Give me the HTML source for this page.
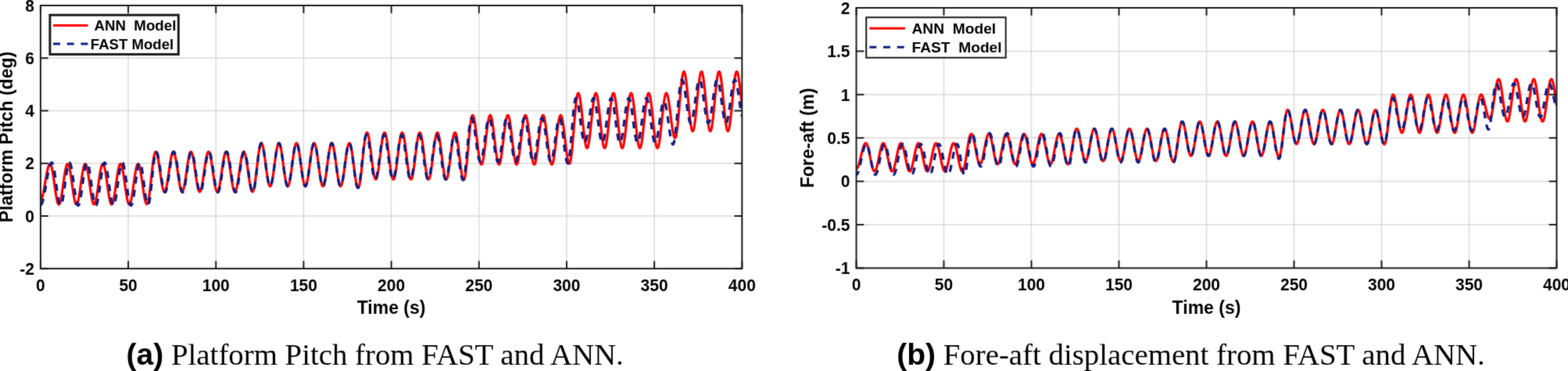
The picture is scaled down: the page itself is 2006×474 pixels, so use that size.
<!DOCTYPE html>
<html><head><meta charset="utf-8"><title>Platform Pitch and Fore-aft displacement from FAST and ANN</title>
<style>
html,body{margin:0;padding:0;background:#fff;}
body{width:2006px;height:474px;overflow:hidden;}
svg{display:block;}
.tk{font-family:"Liberation Sans",Arial,sans-serif;font-weight:bold;font-size:21px;fill:#000;}
.lb{font-family:"Liberation Sans",Arial,sans-serif;font-weight:bold;font-size:23px;fill:#000;}
.lg{font-family:"Liberation Sans",Arial,sans-serif;font-weight:bold;fill:#000;}
.cap{font-family:"Liberation Serif","Times New Roman",serif;font-size:38.85px;fill:#000;}
.capb{font-family:"Liberation Sans",Arial,sans-serif;font-weight:bold;font-size:39px;}
</style></head>
<body>
<svg width="2006" height="474" viewBox="0 0 2006 474">
<defs>
<filter id="soft" x="0" y="0" width="2006" height="474" filterUnits="userSpaceOnUse" color-interpolation-filters="sRGB"><feConvolveMatrix order="3" kernelMatrix="1 6 1 6 36 6 1 6 1" divisor="64" edgeMode="duplicate"/></filter>
<clipPath id="cl"><rect x="51.9" y="7.0" width="897.40" height="336.20"/></clipPath>
<clipPath id="cr"><rect x="1095.5" y="10.0" width="896.00" height="332.50"/></clipPath>
</defs>
<rect width="2006" height="474" fill="#fff"/>
<g filter="url(#soft)">
<line x1="164.07" y1="7.0" x2="164.07" y2="343.2" stroke="#dadada" stroke-width="1.5"/>
<line x1="276.25" y1="7.0" x2="276.25" y2="343.2" stroke="#dadada" stroke-width="1.5"/>
<line x1="388.42" y1="7.0" x2="388.42" y2="343.2" stroke="#dadada" stroke-width="1.5"/>
<line x1="500.60" y1="7.0" x2="500.60" y2="343.2" stroke="#dadada" stroke-width="1.5"/>
<line x1="612.77" y1="7.0" x2="612.77" y2="343.2" stroke="#dadada" stroke-width="1.5"/>
<line x1="724.95" y1="7.0" x2="724.95" y2="343.2" stroke="#dadada" stroke-width="1.5"/>
<line x1="837.12" y1="7.0" x2="837.12" y2="343.2" stroke="#dadada" stroke-width="1.5"/>
<line x1="51.9" y1="275.96" x2="949.3" y2="275.96" stroke="#dadada" stroke-width="1.5"/>
<line x1="51.9" y1="208.72" x2="949.3" y2="208.72" stroke="#dadada" stroke-width="1.5"/>
<line x1="51.9" y1="141.48" x2="949.3" y2="141.48" stroke="#dadada" stroke-width="1.5"/>
<line x1="51.9" y1="74.24" x2="949.3" y2="74.24" stroke="#dadada" stroke-width="1.5"/>
<g clip-path="url(#cl)">
<path d="M51.9,255.12 L52.48,254.86 L53.05,254.1 L53.63,252.85 L54.21,251.14 L54.78,249.01 L55.36,246.51 L55.94,243.68 L56.52,240.61 L57.09,237.34 L57.67,233.96 L58.25,230.55 L58.82,227.17 L59.4,223.9 L59.98,220.82 L60.55,218.0 L61.13,215.5 L61.71,213.36 L62.28,211.66 L62.86,210.41 L63.44,209.65 L64.01,209.39 L64.58,209.71 L65.14,210.66 L65.7,212.21 L66.27,214.34 L66.83,216.97 L67.39,220.06 L67.96,223.53 L68.52,227.28 L69.08,231.23 L69.65,235.28 L70.21,239.33 L70.77,243.28 L71.34,247.03 L71.9,250.5 L72.46,253.58 L73.02,256.22 L73.59,258.35 L74.15,259.9 L74.71,260.85 L75.28,261.17 L75.84,260.85 L76.4,259.9 L76.97,258.35 L77.53,256.22 L78.09,253.58 L78.66,250.5 L79.22,247.03 L79.78,243.28 L80.35,239.33 L80.91,235.28 L81.47,231.23 L82.03,227.28 L82.6,223.53 L83.16,220.06 L83.72,216.97 L84.29,214.34 L84.85,212.21 L85.41,210.66 L85.98,209.71 L86.54,209.39 L87.1,209.71 L87.67,210.66 L88.23,212.21 L88.79,214.34 L89.36,216.97 L89.92,220.06 L90.48,223.53 L91.04,227.28 L91.61,231.23 L92.17,235.28 L92.73,239.33 L93.3,243.28 L93.86,247.03 L94.42,250.5 L94.99,253.58 L95.55,256.22 L96.11,258.35 L96.68,259.9 L97.24,260.85 L97.8,261.17 L98.37,260.85 L98.93,259.9 L99.49,258.35 L100.05,256.22 L100.62,253.58 L101.18,250.5 L101.74,247.03 L102.31,243.28 L102.87,239.33 L103.43,235.28 L104.0,231.23 L104.56,227.28 L105.12,223.53 L105.69,220.06 L106.25,216.97 L106.81,214.34 L107.38,212.21 L107.94,210.66 L108.5,209.71 L109.06,209.39 L109.63,209.71 L110.19,210.66 L110.75,212.21 L111.32,214.34 L111.88,216.97 L112.44,220.06 L113.01,223.53 L113.57,227.28 L114.13,231.23 L114.7,235.28 L115.26,239.33 L115.82,243.28 L116.38,247.03 L116.95,250.5 L117.51,253.58 L118.07,256.22 L118.64,258.35 L119.2,259.9 L119.76,260.85 L120.33,261.17 L120.89,260.85 L121.45,259.9 L122.02,258.35 L122.58,256.22 L123.14,253.58 L123.71,250.5 L124.27,247.03 L124.83,243.28 L125.39,239.33 L125.96,235.28 L126.52,231.23 L127.08,227.28 L127.65,223.53 L128.21,220.06 L128.77,216.97 L129.34,214.34 L129.9,212.21 L130.46,210.66 L131.03,209.71 L131.59,209.39 L132.15,209.71 L132.72,210.66 L133.28,212.21 L133.84,214.34 L134.4,216.97 L134.97,220.06 L135.53,223.53 L136.09,227.28 L136.66,231.23 L137.22,235.28 L137.78,239.33 L138.35,243.28 L138.91,247.03 L139.47,250.5 L140.04,253.58 L140.6,256.22 L141.16,258.35 L141.73,259.9 L142.29,260.85 L142.85,261.17 L143.41,260.85 L143.98,259.9 L144.54,258.35 L145.1,256.22 L145.67,253.58 L146.23,250.5 L146.79,247.03 L147.36,243.28 L147.92,239.33 L148.48,235.28 L149.05,231.23 L149.61,227.28 L150.17,223.53 L150.74,220.06 L151.3,216.97 L151.86,214.34 L152.42,212.21 L152.99,210.66 L153.55,209.71 L154.11,209.39 L154.68,209.71 L155.24,210.66 L155.8,212.21 L156.37,214.34 L156.93,216.97 L157.49,220.06 L158.06,223.53 L158.62,227.28 L159.18,231.23 L159.75,235.28 L160.31,239.33 L160.87,243.28 L161.43,247.03 L162.0,250.5 L162.56,253.58 L163.12,256.22 L163.69,258.35 L164.25,259.9 L164.81,260.85 L165.38,261.17 L165.94,260.85 L166.5,259.9 L167.07,258.35 L167.63,256.22 L168.19,253.58 L168.75,250.5 L169.32,247.03 L169.88,243.28 L170.44,239.33 L171.01,235.28 L171.57,231.23 L172.13,227.28 L172.7,223.53 L173.26,220.06 L173.82,216.97 L174.39,214.34 L174.95,212.21 L175.51,210.66 L176.08,209.71 L176.64,209.39 L177.2,209.71 L177.76,210.65 L178.33,212.2 L178.89,214.3 L179.45,216.93 L180.02,219.99 L180.58,223.44 L181.14,227.16 L181.71,231.09 L182.27,235.11 L182.83,239.14 L183.4,243.06 L183.96,246.79 L184.52,250.23 L185.09,253.3 L185.65,255.92 L186.21,258.03 L186.77,259.57 L187.34,260.51 L187.9,260.83 L188.46,260.42 L189.03,259.19 L189.59,257.18 L190.15,254.44 L190.72,251.03 L191.28,247.04 L191.84,242.57 L192.41,237.72 L192.97,232.61 L193.53,227.38 L194.1,222.15 L194.66,217.04 L195.22,212.19 L195.78,207.72 L196.35,203.73 L196.91,200.32 L197.47,197.57 L198.04,195.56 L198.6,194.34 L199.16,193.93 L199.73,194.24 L200.29,195.18 L200.85,196.71 L201.42,198.81 L201.98,201.41 L202.54,204.46 L203.11,207.88 L203.67,211.58 L204.23,215.48 L204.79,219.48 L205.36,223.48 L205.92,227.37 L206.48,231.08 L207.05,234.5 L207.61,237.55 L208.17,240.15 L208.74,242.24 L209.3,243.78 L209.86,244.72 L210.43,245.03 L210.99,244.72 L211.55,243.78 L212.12,242.24 L212.68,240.15 L213.24,237.55 L213.8,234.5 L214.37,231.08 L214.93,227.37 L215.49,223.48 L216.06,219.48 L216.62,215.48 L217.18,211.58 L217.75,207.88 L218.31,204.46 L218.87,201.41 L219.44,198.81 L220.0,196.71 L220.56,195.18 L221.12,194.24 L221.69,193.93 L222.25,194.24 L222.81,195.18 L223.38,196.71 L223.94,198.81 L224.5,201.41 L225.07,204.46 L225.63,207.88 L226.19,211.58 L226.76,215.48 L227.32,219.48 L227.88,223.48 L228.45,227.37 L229.01,231.08 L229.57,234.5 L230.13,237.55 L230.7,240.15 L231.26,242.24 L231.82,243.78 L232.39,244.72 L232.95,245.03 L233.51,244.72 L234.08,243.78 L234.64,242.24 L235.2,240.15 L235.77,237.55 L236.33,234.5 L236.89,231.08 L237.46,227.37 L238.02,223.48 L238.58,219.48 L239.14,215.48 L239.71,211.58 L240.27,207.88 L240.83,204.46 L241.4,201.41 L241.96,198.81 L242.52,196.71 L243.09,195.18 L243.65,194.24 L244.21,193.93 L244.78,194.24 L245.34,195.18 L245.9,196.71 L246.47,198.81 L247.03,201.41 L247.59,204.46 L248.15,207.88 L248.72,211.58 L249.28,215.48 L249.84,219.48 L250.41,223.48 L250.97,227.37 L251.53,231.08 L252.1,234.5 L252.66,237.55 L253.22,240.15 L253.79,242.24 L254.35,243.78 L254.91,244.72 L255.48,245.03 L256.04,244.72 L256.6,243.78 L257.16,242.24 L257.73,240.15 L258.29,237.55 L258.85,234.5 L259.42,231.08 L259.98,227.37 L260.54,223.48 L261.11,219.48 L261.67,215.48 L262.23,211.58 L262.8,207.88 L263.36,204.46 L263.92,201.41 L264.49,198.81 L265.05,196.71 L265.61,195.18 L266.17,194.24 L266.74,193.93 L267.3,194.24 L267.86,195.18 L268.43,196.71 L268.99,198.81 L269.55,201.41 L270.12,204.46 L270.68,207.88 L271.24,211.58 L271.81,215.48 L272.37,219.48 L272.93,223.48 L273.49,227.37 L274.06,231.08 L274.62,234.5 L275.18,237.55 L275.75,240.15 L276.31,242.24 L276.87,243.78 L277.44,244.72 L278.0,245.03 L278.56,244.72 L279.13,243.78 L279.69,242.24 L280.25,240.15 L280.82,237.55 L281.38,234.5 L281.94,231.08 L282.5,227.37 L283.07,223.48 L283.63,219.48 L284.19,215.48 L284.76,211.58 L285.32,207.88 L285.88,204.46 L286.45,201.41 L287.01,198.81 L287.57,196.71 L288.14,195.18 L288.7,194.24 L289.26,193.93 L289.83,194.24 L290.39,195.18 L290.95,196.71 L291.51,198.81 L292.08,201.41 L292.64,204.46 L293.2,207.88 L293.77,211.58 L294.33,215.48 L294.89,219.48 L295.46,223.48 L296.02,227.37 L296.58,231.08 L297.15,234.5 L297.71,237.55 L298.27,240.15 L298.84,242.24 L299.4,243.78 L299.96,244.72 L300.52,245.03 L301.09,244.72 L301.65,243.78 L302.21,242.24 L302.78,240.15 L303.34,237.55 L303.9,234.5 L304.47,231.08 L305.03,227.37 L305.59,223.48 L306.16,219.48 L306.72,215.48 L307.28,211.58 L307.85,207.88 L308.41,204.46 L308.97,201.41 L309.53,198.81 L310.1,196.71 L310.66,195.18 L311.22,194.24 L311.79,193.93 L312.35,194.24 L312.91,195.18 L313.48,196.71 L314.04,198.81 L314.6,201.41 L315.17,204.46 L315.73,207.88 L316.29,211.58 L316.86,215.48 L317.42,219.48 L317.98,223.48 L318.54,227.37 L319.11,231.08 L319.67,234.5 L320.23,237.55 L320.8,240.15 L321.36,242.24 L321.92,243.78 L322.49,244.72 L323.05,245.03 L323.61,244.65 L324.18,243.51 L324.74,241.64 L325.3,239.09 L325.87,235.92 L326.43,232.21 L326.99,228.05 L327.55,223.54 L328.12,218.8 L328.68,213.93 L329.24,209.07 L329.81,204.32 L330.37,199.81 L330.93,195.65 L331.5,191.94 L332.06,188.77 L332.62,186.22 L333.19,184.35 L333.75,183.22 L334.31,182.83 L334.87,183.17 L335.44,184.18 L336.0,185.84 L336.56,188.1 L337.13,190.91 L337.69,194.2 L338.25,197.89 L338.82,201.88 L339.38,206.09 L339.94,210.4 L340.51,214.71 L341.07,218.92 L341.63,222.92 L342.2,226.61 L342.76,229.89 L343.32,232.7 L343.88,234.96 L344.45,236.62 L345.01,237.63 L345.57,237.97 L346.14,237.63 L346.7,236.62 L347.26,234.96 L347.83,232.7 L348.39,229.89 L348.95,226.61 L349.52,222.92 L350.08,218.92 L350.64,214.71 L351.21,210.4 L351.77,206.09 L352.33,201.88 L352.89,197.89 L353.46,194.2 L354.02,190.91 L354.58,188.1 L355.15,185.84 L355.71,184.18 L356.27,183.17 L356.84,182.83 L357.4,183.17 L357.96,184.18 L358.53,185.84 L359.09,188.1 L359.65,190.91 L360.22,194.2 L360.78,197.89 L361.34,201.88 L361.9,206.09 L362.47,210.4 L363.03,214.71 L363.59,218.92 L364.16,222.92 L364.72,226.61 L365.28,229.89 L365.85,232.7 L366.41,234.96 L366.97,236.62 L367.54,237.63 L368.1,237.97 L368.66,237.63 L369.23,236.62 L369.79,234.96 L370.35,232.7 L370.91,229.89 L371.48,226.61 L372.04,222.92 L372.6,218.92 L373.17,214.71 L373.73,210.4 L374.29,206.09 L374.86,201.88 L375.42,197.89 L375.98,194.2 L376.55,190.91 L377.11,188.1 L377.67,185.84 L378.24,184.18 L378.8,183.17 L379.36,182.83 L379.92,183.17 L380.49,184.18 L381.05,185.84 L381.61,188.1 L382.18,190.91 L382.74,194.2 L383.3,197.89 L383.87,201.88 L384.43,206.09 L384.99,210.4 L385.56,214.71 L386.12,218.92 L386.68,222.92 L387.24,226.61 L387.81,229.89 L388.37,232.7 L388.93,234.96 L389.5,236.62 L390.06,237.63 L390.62,237.97 L391.19,237.63 L391.75,236.62 L392.31,234.96 L392.88,232.7 L393.44,229.89 L394.0,226.61 L394.57,222.92 L395.13,218.92 L395.69,214.71 L396.25,210.4 L396.82,206.09 L397.38,201.88 L397.94,197.89 L398.51,194.2 L399.07,190.91 L399.63,188.1 L400.2,185.84 L400.76,184.18 L401.32,183.17 L401.89,182.83 L402.45,183.17 L403.01,184.18 L403.58,185.84 L404.14,188.1 L404.7,190.91 L405.26,194.2 L405.83,197.89 L406.39,201.88 L406.95,206.09 L407.52,210.4 L408.08,214.71 L408.64,218.92 L409.21,222.92 L409.77,226.61 L410.33,229.89 L410.9,232.7 L411.46,234.96 L412.02,236.62 L412.59,237.63 L413.15,237.97 L413.71,237.63 L414.27,236.62 L414.84,234.96 L415.4,232.7 L415.96,229.89 L416.53,226.61 L417.09,222.92 L417.65,218.92 L418.22,214.71 L418.78,210.4 L419.34,206.09 L419.91,201.88 L420.47,197.89 L421.03,194.2 L421.6,190.91 L422.16,188.1 L422.72,185.84 L423.28,184.18 L423.85,183.17 L424.41,182.83 L424.97,183.17 L425.54,184.18 L426.1,185.84 L426.66,188.1 L427.23,190.91 L427.79,194.2 L428.35,197.89 L428.92,201.88 L429.48,206.09 L430.04,210.4 L430.61,214.71 L431.17,218.92 L431.73,222.92 L432.29,226.61 L432.86,229.89 L433.42,232.7 L433.98,234.96 L434.55,236.62 L435.11,237.63 L435.67,237.97 L436.24,237.63 L436.8,236.62 L437.36,234.96 L437.93,232.7 L438.49,229.89 L439.05,226.61 L439.61,222.92 L440.18,218.92 L440.74,214.71 L441.3,210.4 L441.87,206.09 L442.43,201.88 L442.99,197.89 L443.56,194.2 L444.12,190.91 L444.68,188.1 L445.25,185.84 L445.81,184.18 L446.37,183.17 L446.94,182.83 L447.5,183.18 L448.06,184.23 L448.62,185.95 L449.19,188.29 L449.75,191.2 L450.31,194.61 L450.88,198.44 L451.44,202.58 L452.0,206.94 L452.57,211.41 L453.13,215.88 L453.69,220.24 L454.26,224.38 L454.82,228.21 L455.38,231.62 L455.95,234.53 L456.51,236.87 L457.07,238.59 L457.63,239.63 L458.2,239.99 L458.76,239.55 L459.32,238.26 L459.89,236.14 L460.45,233.24 L461.01,229.65 L461.58,225.44 L462.14,220.71 L462.7,215.59 L463.27,210.21 L463.83,204.69 L464.39,199.16 L464.96,193.78 L465.52,188.66 L466.08,183.94 L466.64,179.72 L467.21,176.13 L467.77,173.23 L468.33,171.11 L468.9,169.82 L469.46,169.38 L470.02,169.75 L470.59,170.85 L471.15,172.65 L471.71,175.1 L472.28,178.15 L472.84,181.72 L473.4,185.72 L473.97,190.06 L474.53,194.63 L475.09,199.31 L475.65,203.99 L476.22,208.55 L476.78,212.89 L477.34,216.89 L477.91,220.46 L478.47,223.51 L479.03,225.97 L479.6,227.76 L480.16,228.86 L480.72,229.23 L481.29,228.86 L481.85,227.76 L482.41,225.97 L482.98,223.51 L483.54,220.46 L484.1,216.89 L484.66,212.89 L485.23,208.55 L485.79,203.99 L486.35,199.31 L486.92,194.63 L487.48,190.06 L488.04,185.72 L488.61,181.72 L489.17,178.15 L489.73,175.1 L490.3,172.65 L490.86,170.85 L491.42,169.75 L491.98,169.38 L492.55,169.75 L493.11,170.85 L493.67,172.65 L494.24,175.1 L494.8,178.15 L495.36,181.72 L495.93,185.72 L496.49,190.06 L497.05,194.63 L497.62,199.31 L498.18,203.99 L498.74,208.55 L499.31,212.89 L499.87,216.89 L500.43,220.46 L500.99,223.51 L501.56,225.97 L502.12,227.76 L502.68,228.86 L503.25,229.23 L503.81,228.86 L504.37,227.76 L504.94,225.97 L505.5,223.51 L506.06,220.46 L506.63,216.89 L507.19,212.89 L507.75,208.55 L508.32,203.99 L508.88,199.31 L509.44,194.63 L510.0,190.06 L510.57,185.72 L511.13,181.72 L511.69,178.15 L512.26,175.1 L512.82,172.65 L513.38,170.85 L513.95,169.75 L514.51,169.38 L515.07,169.75 L515.64,170.85 L516.2,172.65 L516.76,175.1 L517.33,178.15 L517.89,181.72 L518.45,185.72 L519.01,190.06 L519.58,194.63 L520.14,199.31 L520.7,203.99 L521.27,208.55 L521.83,212.89 L522.39,216.89 L522.96,220.46 L523.52,223.51 L524.08,225.97 L524.65,227.76 L525.21,228.86 L525.77,229.23 L526.34,228.86 L526.9,227.76 L527.46,225.97 L528.02,223.51 L528.59,220.46 L529.15,216.89 L529.71,212.89 L530.28,208.55 L530.84,203.99 L531.4,199.31 L531.97,194.63 L532.53,190.06 L533.09,185.72 L533.66,181.72 L534.22,178.15 L534.78,175.1 L535.35,172.65 L535.91,170.85 L536.47,169.75 L537.03,169.38 L537.6,169.75 L538.16,170.85 L538.72,172.65 L539.29,175.1 L539.85,178.15 L540.41,181.72 L540.98,185.72 L541.54,190.06 L542.1,194.63 L542.67,199.31 L543.23,203.99 L543.79,208.55 L544.35,212.89 L544.92,216.89 L545.48,220.46 L546.04,223.51 L546.61,225.97 L547.17,227.76 L547.73,228.86 L548.3,229.23 L548.86,228.86 L549.42,227.76 L549.99,225.97 L550.55,223.51 L551.11,220.46 L551.68,216.89 L552.24,212.89 L552.8,208.55 L553.36,203.99 L553.93,199.31 L554.49,194.63 L555.05,190.06 L555.62,185.72 L556.18,181.72 L556.74,178.15 L557.31,175.1 L557.87,172.65 L558.43,170.85 L559.0,169.75 L559.56,169.38 L560.12,169.75 L560.69,170.85 L561.25,172.65 L561.81,175.1 L562.37,178.15 L562.94,181.72 L563.5,185.72 L564.06,190.06 L564.63,194.63 L565.19,199.31 L565.75,203.99 L566.32,208.55 L566.88,212.89 L567.44,216.89 L568.01,220.46 L568.57,223.51 L569.13,225.97 L569.7,227.76 L570.26,228.86 L570.82,229.23 L571.38,228.86 L571.95,227.76 L572.51,225.97 L573.07,223.51 L573.64,220.46 L574.2,216.89 L574.76,212.89 L575.33,208.55 L575.89,203.99 L576.45,199.31 L577.02,194.63 L577.58,190.06 L578.14,185.72 L578.71,181.72 L579.27,178.15 L579.83,175.1 L580.39,172.65 L580.96,170.85 L581.52,169.75 L582.08,169.38 L582.65,169.76 L583.21,170.87 L583.77,172.68 L584.34,175.16 L584.9,178.25 L585.46,181.86 L586.03,185.91 L586.59,190.29 L587.15,194.91 L587.72,199.64 L588.28,204.38 L588.84,208.99 L589.4,213.38 L589.97,217.43 L590.53,221.04 L591.09,224.12 L591.66,226.6 L592.22,228.42 L592.78,229.53 L593.35,229.9 L593.91,229.39 L594.47,227.88 L595.04,225.39 L595.6,222.0 L596.16,217.79 L596.73,212.85 L597.29,207.32 L597.85,201.33 L598.41,195.02 L598.98,188.55 L599.54,182.08 L600.1,175.77 L600.67,169.77 L601.23,164.24 L601.79,159.31 L602.36,155.09 L602.92,151.7 L603.48,149.22 L604.05,147.7 L604.61,147.2 L605.17,147.58 L605.73,148.73 L606.3,150.62 L606.86,153.2 L607.42,156.4 L607.99,160.15 L608.55,164.36 L609.11,168.92 L609.68,173.71 L610.24,178.63 L610.8,183.55 L611.37,188.34 L611.93,192.9 L612.49,197.11 L613.06,200.86 L613.62,204.06 L614.18,206.64 L614.74,208.53 L615.31,209.68 L615.87,210.06 L616.43,209.68 L617.0,208.53 L617.56,206.64 L618.12,204.06 L618.69,200.86 L619.25,197.11 L619.81,192.9 L620.38,188.34 L620.94,183.55 L621.5,178.63 L622.07,173.71 L622.63,168.92 L623.19,164.36 L623.75,160.15 L624.32,156.4 L624.88,153.2 L625.44,150.62 L626.01,148.73 L626.57,147.58 L627.13,147.2 L627.7,147.58 L628.26,148.73 L628.82,150.62 L629.39,153.2 L629.95,156.4 L630.51,160.15 L631.08,164.36 L631.64,168.92 L632.2,173.71 L632.76,178.63 L633.33,183.55 L633.89,188.34 L634.45,192.9 L635.02,197.11 L635.58,200.86 L636.14,204.06 L636.71,206.64 L637.27,208.53 L637.83,209.68 L638.4,210.06 L638.96,209.68 L639.52,208.53 L640.09,206.64 L640.65,204.06 L641.21,200.86 L641.77,197.11 L642.34,192.9 L642.9,188.34 L643.46,183.55 L644.03,178.63 L644.59,173.71 L645.15,168.92 L645.72,164.36 L646.28,160.15 L646.84,156.4 L647.41,153.2 L647.97,150.62 L648.53,148.73 L649.1,147.58 L649.66,147.2 L650.22,147.58 L650.78,148.73 L651.35,150.62 L651.91,153.2 L652.47,156.4 L653.04,160.15 L653.6,164.36 L654.16,168.92 L654.73,173.71 L655.29,178.63 L655.85,183.55 L656.42,188.34 L656.98,192.9 L657.54,197.11 L658.1,200.86 L658.67,204.06 L659.23,206.64 L659.79,208.53 L660.36,209.68 L660.92,210.06 L661.48,209.68 L662.05,208.53 L662.61,206.64 L663.17,204.06 L663.74,200.86 L664.3,197.11 L664.86,192.9 L665.43,188.34 L665.99,183.55 L666.55,178.63 L667.11,173.71 L667.68,168.92 L668.24,164.36 L668.8,160.15 L669.37,156.4 L669.93,153.2 L670.49,150.62 L671.06,148.73 L671.62,147.58 L672.18,147.2 L672.75,147.58 L673.31,148.73 L673.87,150.62 L674.44,153.2 L675.0,156.4 L675.56,160.15 L676.12,164.36 L676.69,168.92 L677.25,173.71 L677.81,178.63 L678.38,183.55 L678.94,188.34 L679.5,192.9 L680.07,197.11 L680.63,200.86 L681.19,204.06 L681.76,206.64 L682.32,208.53 L682.88,209.68 L683.45,210.06 L684.01,209.68 L684.57,208.53 L685.13,206.64 L685.7,204.06 L686.26,200.86 L686.82,197.11 L687.39,192.9 L687.95,188.34 L688.51,183.55 L689.08,178.63 L689.64,173.71 L690.2,168.92 L690.77,164.36 L691.33,160.15 L691.89,156.4 L692.46,153.2 L693.02,150.62 L693.58,148.73 L694.14,147.58 L694.71,147.2 L695.27,147.58 L695.83,148.73 L696.4,150.62 L696.96,153.2 L697.52,156.4 L698.09,160.15 L698.65,164.36 L699.21,168.92 L699.78,173.71 L700.34,178.63 L700.9,183.55 L701.47,188.34 L702.03,192.9 L702.59,197.11 L703.15,200.86 L703.72,204.06 L704.28,206.64 L704.84,208.53 L705.41,209.68 L705.97,210.06 L706.53,209.68 L707.1,208.53 L707.66,206.64 L708.22,204.06 L708.79,200.86 L709.35,197.11 L709.91,192.9 L710.47,188.34 L711.04,183.55 L711.6,178.63 L712.16,173.71 L712.73,168.92 L713.29,164.36 L713.85,160.15 L714.42,156.4 L714.98,153.2 L715.54,150.62 L716.11,148.73 L716.67,147.58 L717.23,147.2 L717.8,147.58 L718.36,148.71 L718.92,150.57 L719.48,153.1 L720.05,156.25 L720.61,159.95 L721.17,164.08 L721.74,168.57 L722.3,173.29 L722.86,178.13 L723.43,182.96 L723.99,187.68 L724.55,192.17 L725.12,196.31 L725.68,200.0 L726.24,203.15 L726.81,205.68 L727.37,207.54 L727.93,208.68 L728.49,209.06 L729.06,208.5 L729.62,206.85 L730.18,204.15 L730.75,200.45 L731.31,195.86 L731.87,190.49 L732.44,184.46 L733.0,177.93 L733.56,171.05 L734.13,164.01 L734.69,156.96 L735.25,150.08 L735.82,143.55 L736.38,137.53 L736.94,132.15 L737.5,127.56 L738.07,123.86 L738.63,121.16 L739.19,119.51 L739.76,118.95 L740.32,119.39 L740.88,120.67 L741.45,122.78 L742.01,125.66 L742.57,129.24 L743.14,133.44 L743.7,138.14 L744.26,143.23 L744.83,148.59 L745.39,154.09 L745.95,159.58 L746.51,164.94 L747.08,170.04 L747.64,174.74 L748.2,178.93 L748.77,182.51 L749.33,185.39 L749.89,187.5 L750.46,188.79 L751.02,189.22 L751.58,188.79 L752.15,187.5 L752.71,185.39 L753.27,182.51 L753.84,178.93 L754.4,174.74 L754.96,170.04 L755.52,164.94 L756.09,159.58 L756.65,154.09 L757.21,148.59 L757.78,143.23 L758.34,138.14 L758.9,133.44 L759.47,129.24 L760.03,125.66 L760.59,122.78 L761.16,120.67 L761.72,119.39 L762.28,118.95 L762.84,119.39 L763.41,120.67 L763.97,122.78 L764.53,125.66 L765.1,129.24 L765.66,133.44 L766.22,138.14 L766.79,143.23 L767.35,148.59 L767.91,154.09 L768.48,159.58 L769.04,164.94 L769.6,170.04 L770.17,174.74 L770.73,178.93 L771.29,182.51 L771.85,185.39 L772.42,187.5 L772.98,188.79 L773.54,189.22 L774.11,188.79 L774.67,187.5 L775.23,185.39 L775.8,182.51 L776.36,178.93 L776.92,174.74 L777.49,170.04 L778.05,164.94 L778.61,159.58 L779.18,154.09 L779.74,148.59 L780.3,143.23 L780.86,138.14 L781.43,133.44 L781.99,129.24 L782.55,125.66 L783.12,122.78 L783.68,120.67 L784.24,119.39 L784.81,118.95 L785.37,119.39 L785.93,120.67 L786.5,122.78 L787.06,125.66 L787.62,129.24 L788.19,133.44 L788.75,138.14 L789.31,143.23 L789.87,148.59 L790.44,154.09 L791.0,159.58 L791.56,164.94 L792.13,170.04 L792.69,174.74 L793.25,178.93 L793.82,182.51 L794.38,185.39 L794.94,187.5 L795.51,188.79 L796.07,189.22 L796.63,188.79 L797.2,187.5 L797.76,185.39 L798.32,182.51 L798.88,178.93 L799.45,174.74 L800.01,170.04 L800.57,164.94 L801.14,159.58 L801.7,154.09 L802.26,148.59 L802.83,143.23 L803.39,138.14 L803.95,133.44 L804.52,129.24 L805.08,125.66 L805.64,122.78 L806.21,120.67 L806.77,119.39 L807.33,118.95 L807.89,119.39 L808.46,120.67 L809.02,122.78 L809.58,125.66 L810.15,129.24 L810.71,133.44 L811.27,138.14 L811.84,143.23 L812.4,148.59 L812.96,154.09 L813.53,159.58 L814.09,164.94 L814.65,170.04 L815.21,174.74 L815.78,178.93 L816.34,182.51 L816.9,185.39 L817.47,187.5 L818.03,188.79 L818.59,189.22 L819.16,188.79 L819.72,187.5 L820.28,185.39 L820.85,182.51 L821.41,178.93 L821.97,174.74 L822.54,170.04 L823.1,164.94 L823.66,159.58 L824.22,154.09 L824.79,148.59 L825.35,143.23 L825.91,138.14 L826.48,133.44 L827.04,129.24 L827.6,125.66 L828.17,122.78 L828.73,120.67 L829.29,119.39 L829.86,118.95 L830.42,119.39 L830.98,120.67 L831.55,122.78 L832.11,125.66 L832.67,129.24 L833.23,133.44 L833.8,138.14 L834.36,143.23 L834.92,148.59 L835.49,154.09 L836.05,159.58 L836.61,164.94 L837.18,170.04 L837.74,174.74 L838.3,178.93 L838.87,182.51 L839.43,185.39 L839.99,187.5 L840.56,188.79 L841.12,189.22 L841.68,188.79 L842.24,187.5 L842.81,185.39 L843.37,182.51 L843.93,178.93 L844.5,174.74 L845.06,170.04 L845.62,164.94 L846.19,159.58 L846.75,154.09 L847.31,148.59 L847.88,143.23 L848.44,138.14 L849.0,133.44 L849.57,129.24 L850.13,125.66 L850.69,122.78 L851.25,120.67 L851.82,119.39 L852.38,118.95 L852.94,119.31 L853.51,120.36 L854.07,122.09 L854.63,124.44 L855.2,127.37 L855.76,130.8 L856.32,134.65 L856.89,138.82 L857.45,143.2 L858.01,147.7 L858.58,152.2 L859.14,156.58 L859.7,160.75 L860.26,164.6 L860.83,168.03 L861.39,170.95 L861.95,173.31 L862.52,175.04 L863.08,176.09 L863.64,176.44 L864.21,175.92 L864.77,174.36 L865.33,171.81 L865.9,168.32 L866.46,163.99 L867.02,158.91 L867.58,153.22 L868.15,147.06 L868.71,140.57 L869.27,133.92 L869.84,127.26 L870.4,120.77 L870.96,114.61 L871.53,108.92 L872.09,103.84 L872.65,99.51 L873.22,96.02 L873.78,93.47 L874.34,91.91 L874.91,91.39 L875.47,91.86 L876.03,93.25 L876.59,95.55 L877.16,98.67 L877.72,102.56 L878.28,107.12 L878.85,112.22 L879.41,117.75 L879.97,123.58 L880.54,129.54 L881.1,135.51 L881.66,141.34 L882.23,146.87 L882.79,151.97 L883.35,156.53 L883.92,160.42 L884.48,163.54 L885.04,165.84 L885.6,167.23 L886.17,167.7 L886.73,167.23 L887.29,165.84 L887.86,163.54 L888.42,160.42 L888.98,156.53 L889.55,151.97 L890.11,146.87 L890.67,141.34 L891.24,135.51 L891.8,129.54 L892.36,123.58 L892.93,117.75 L893.49,112.22 L894.05,107.12 L894.61,102.56 L895.18,98.67 L895.74,95.55 L896.3,93.25 L896.87,91.86 L897.43,91.39 L897.99,91.86 L898.56,93.25 L899.12,95.55 L899.68,98.67 L900.25,102.56 L900.81,107.12 L901.37,112.22 L901.94,117.75 L902.5,123.58 L903.06,129.54 L903.62,135.51 L904.19,141.34 L904.75,146.87 L905.31,151.97 L905.88,156.53 L906.44,160.42 L907.0,163.54 L907.57,165.84 L908.13,167.23 L908.69,167.7 L909.26,167.23 L909.82,165.84 L910.38,163.54 L910.95,160.42 L911.51,156.53 L912.07,151.97 L912.63,146.87 L913.2,141.34 L913.76,135.51 L914.32,129.54 L914.89,123.58 L915.45,117.75 L916.01,112.22 L916.58,107.12 L917.14,102.56 L917.7,98.67 L918.27,95.55 L918.83,93.25 L919.39,91.86 L919.96,91.39 L920.52,91.86 L921.08,93.25 L921.64,95.55 L922.21,98.67 L922.77,102.56 L923.33,107.12 L923.9,112.22 L924.46,117.75 L925.02,123.58 L925.59,129.54 L926.15,135.51 L926.71,141.34 L927.28,146.87 L927.84,151.97 L928.4,156.53 L928.96,160.42 L929.53,163.54 L930.09,165.84 L930.65,167.23 L931.22,167.7 L931.78,167.23 L932.34,165.84 L932.91,163.54 L933.47,160.42 L934.03,156.53 L934.6,151.97 L935.16,146.87 L935.72,141.34 L936.29,135.51 L936.85,129.54 L937.41,123.58 L937.97,117.75 L938.54,112.22 L939.1,107.12 L939.66,102.56 L940.23,98.67 L940.79,95.55 L941.35,93.25 L941.92,91.86 L942.48,91.39 L943.05,91.81 L943.62,93.06 L944.18,95.1 L944.75,97.9 L945.32,101.36 L945.89,105.42 L946.46,109.97 L947.03,114.89 L947.59,120.06 L948.16,125.35 L948.73,130.63 L949.3,135.76" fill="none" stroke="#ff0000" stroke-width="3.2" stroke-linejoin="round"/>
<path d="M51.9,261.84 L52.47,261.63 L53.05,260.99 L53.62,259.94 L54.2,258.49 L54.77,256.67 L55.35,254.5 L55.92,252.03 L56.49,249.28 L57.07,246.3 L57.64,243.14 L58.22,239.85 L58.79,236.47 L59.37,233.08 L59.94,229.7 L60.52,226.41 L61.09,223.25 L61.66,220.27 L62.24,217.52 L62.81,215.05 L63.39,212.88 L63.96,211.06 L64.54,209.61 L65.11,208.56 L65.68,207.92 L66.26,207.71 L66.82,208.05 L67.38,209.05 L67.95,210.7 L68.51,212.94 L69.07,215.74 L69.64,219.01 L70.2,222.67 L70.76,226.64 L71.33,230.83 L71.89,235.11 L72.45,239.4 L73.02,243.58 L73.58,247.55 L74.14,251.22 L74.71,254.49 L75.27,257.28 L75.83,259.53 L76.39,261.17 L76.96,262.17 L77.52,262.51 L78.08,262.17 L78.65,261.17 L79.21,259.53 L79.77,257.28 L80.34,254.49 L80.9,251.22 L81.46,247.55 L82.03,243.58 L82.59,239.4 L83.15,235.11 L83.72,230.83 L84.28,226.64 L84.84,222.67 L85.4,219.01 L85.97,215.74 L86.53,212.94 L87.09,210.7 L87.66,209.05 L88.22,208.05 L88.78,207.71 L89.35,208.05 L89.91,209.05 L90.47,210.7 L91.04,212.94 L91.6,215.74 L92.16,219.01 L92.72,222.67 L93.29,226.64 L93.85,230.83 L94.41,235.11 L94.98,239.4 L95.54,243.58 L96.1,247.55 L96.67,251.22 L97.23,254.49 L97.79,257.28 L98.36,259.53 L98.92,261.17 L99.48,262.17 L100.05,262.51 L100.61,262.17 L101.17,261.17 L101.73,259.53 L102.3,257.28 L102.86,254.49 L103.42,251.22 L103.99,247.55 L104.55,243.58 L105.11,239.4 L105.68,235.11 L106.24,230.83 L106.8,226.64 L107.37,222.67 L107.93,219.01 L108.49,215.74 L109.06,212.94 L109.62,210.7 L110.18,209.05 L110.74,208.05 L111.31,207.71 L111.87,208.05 L112.43,209.05 L113.0,210.7 L113.56,212.94 L114.12,215.74 L114.69,219.01 L115.25,222.67 L115.81,226.64 L116.38,230.83 L116.94,235.11 L117.5,239.4 L118.07,243.58 L118.63,247.55 L119.19,251.22 L119.75,254.49 L120.32,257.28 L120.88,259.53 L121.44,261.17 L122.01,262.17 L122.57,262.51 L123.13,262.17 L123.7,261.17 L124.26,259.53 L124.82,257.28 L125.39,254.49 L125.95,251.22 L126.51,247.55 L127.08,243.58 L127.64,239.4 L128.2,235.11 L128.76,230.83 L129.33,226.64 L129.89,222.67 L130.45,219.01 L131.02,215.74 L131.58,212.94 L132.14,210.7 L132.71,209.05 L133.27,208.05 L133.83,207.71 L134.4,208.05 L134.96,209.05 L135.52,210.7 L136.09,212.94 L136.65,215.74 L137.21,219.01 L137.77,222.67 L138.34,226.64 L138.9,230.83 L139.46,235.11 L140.03,239.4 L140.59,243.58 L141.15,247.55 L141.72,251.22 L142.28,254.49 L142.84,257.28 L143.41,259.53 L143.97,261.17 L144.53,262.17 L145.09,262.51 L145.66,262.17 L146.22,261.17 L146.78,259.53 L147.35,257.28 L147.91,254.49 L148.47,251.22 L149.04,247.55 L149.6,243.58 L150.16,239.4 L150.73,235.11 L151.29,230.83 L151.85,226.64 L152.42,222.67 L152.98,219.01 L153.54,215.74 L154.1,212.94 L154.67,210.7 L155.23,209.05 L155.79,208.05 L156.36,207.71 L156.92,208.05 L157.48,209.05 L158.05,210.7 L158.61,212.94 L159.17,215.74 L159.74,219.01 L160.3,222.67 L160.86,226.64 L161.43,230.83 L161.99,235.11 L162.55,239.4 L163.11,243.58 L163.68,247.55 L164.24,251.22 L164.8,254.49 L165.37,257.28 L165.93,259.53 L166.49,261.17 L167.06,262.17 L167.62,262.51 L168.18,262.17 L168.75,261.17 L169.31,259.53 L169.87,257.28 L170.44,254.49 L171.0,251.22 L171.56,247.55 L172.12,243.58 L172.69,239.4 L173.25,235.11 L173.81,230.83 L174.38,226.64 L174.94,222.67 L175.5,219.01 L176.07,215.74 L176.63,212.94 L177.19,210.7 L177.76,209.05 L178.32,208.05 L178.88,207.71 L179.46,208.12 L180.05,209.34 L180.63,211.34 L181.21,214.04 L181.79,217.38 L182.37,221.24 L182.96,225.52 L183.54,230.08 L184.12,234.78 L184.7,239.48 L185.28,244.03 L185.87,248.31 L186.45,252.17 L187.03,255.51 L187.61,258.21 L188.2,260.21 L188.78,261.43 L189.36,261.84 L189.94,261.32 L190.52,259.79 L191.11,257.29 L191.69,253.9 L192.27,249.71 L192.85,244.86 L193.43,239.5 L194.02,233.78 L194.6,227.88 L195.18,221.99 L195.76,216.27 L196.34,210.91 L196.93,206.06 L197.51,201.87 L198.09,198.48 L198.67,195.98 L199.25,194.44 L199.84,193.93 L200.4,194.25 L200.96,195.19 L201.53,196.75 L202.09,198.87 L202.65,201.51 L203.22,204.6 L203.78,208.06 L204.34,211.81 L204.9,215.76 L205.47,219.81 L206.03,223.86 L206.59,227.81 L207.16,231.57 L207.72,235.03 L208.28,238.12 L208.85,240.76 L209.41,242.88 L209.97,244.43 L210.54,245.38 L211.1,245.7 L211.66,245.38 L212.22,244.43 L212.79,242.88 L213.35,240.76 L213.91,238.12 L214.48,235.03 L215.04,231.57 L215.6,227.81 L216.17,223.86 L216.73,219.81 L217.29,215.76 L217.86,211.81 L218.42,208.06 L218.98,204.6 L219.55,201.51 L220.11,198.87 L220.67,196.75 L221.23,195.19 L221.8,194.25 L222.36,193.93 L222.92,194.25 L223.49,195.19 L224.05,196.75 L224.61,198.87 L225.18,201.51 L225.74,204.6 L226.3,208.06 L226.87,211.81 L227.43,215.76 L227.99,219.81 L228.56,223.86 L229.12,227.81 L229.68,231.57 L230.24,235.03 L230.81,238.12 L231.37,240.76 L231.93,242.88 L232.5,244.43 L233.06,245.38 L233.62,245.7 L234.19,245.38 L234.75,244.43 L235.31,242.88 L235.88,240.76 L236.44,238.12 L237.0,235.03 L237.57,231.57 L238.13,227.81 L238.69,223.86 L239.25,219.81 L239.82,215.76 L240.38,211.81 L240.94,208.06 L241.51,204.6 L242.07,201.51 L242.63,198.87 L243.2,196.75 L243.76,195.19 L244.32,194.25 L244.89,193.93 L245.45,194.25 L246.01,195.19 L246.58,196.75 L247.14,198.87 L247.7,201.51 L248.26,204.6 L248.83,208.06 L249.39,211.81 L249.95,215.76 L250.52,219.81 L251.08,223.86 L251.64,227.81 L252.21,231.57 L252.77,235.03 L253.33,238.12 L253.9,240.76 L254.46,242.88 L255.02,244.43 L255.59,245.38 L256.15,245.7 L256.71,245.38 L257.27,244.43 L257.84,242.88 L258.4,240.76 L258.96,238.12 L259.53,235.03 L260.09,231.57 L260.65,227.81 L261.22,223.86 L261.78,219.81 L262.34,215.76 L262.91,211.81 L263.47,208.06 L264.03,204.6 L264.6,201.51 L265.16,198.87 L265.72,196.75 L266.28,195.19 L266.85,194.25 L267.41,193.93 L267.97,194.25 L268.54,195.19 L269.1,196.75 L269.66,198.87 L270.23,201.51 L270.79,204.6 L271.35,208.06 L271.92,211.81 L272.48,215.76 L273.04,219.81 L273.6,223.86 L274.17,227.81 L274.73,231.57 L275.29,235.03 L275.86,238.12 L276.42,240.76 L276.98,242.88 L277.55,244.43 L278.11,245.38 L278.67,245.7 L279.24,245.38 L279.8,244.43 L280.36,242.88 L280.93,240.76 L281.49,238.12 L282.05,235.03 L282.61,231.57 L283.18,227.81 L283.74,223.86 L284.3,219.81 L284.87,215.76 L285.43,211.81 L285.99,208.06 L286.56,204.6 L287.12,201.51 L287.68,198.87 L288.25,196.75 L288.81,195.19 L289.37,194.25 L289.94,193.93 L290.5,194.25 L291.06,195.19 L291.62,196.75 L292.19,198.87 L292.75,201.51 L293.31,204.6 L293.88,208.06 L294.44,211.81 L295.0,215.76 L295.57,219.81 L296.13,223.86 L296.69,227.81 L297.26,231.57 L297.82,235.03 L298.38,238.12 L298.95,240.76 L299.51,242.88 L300.07,244.43 L300.63,245.38 L301.2,245.7 L301.76,245.38 L302.32,244.43 L302.89,242.88 L303.45,240.76 L304.01,238.12 L304.58,235.03 L305.14,231.57 L305.7,227.81 L306.27,223.86 L306.83,219.81 L307.39,215.76 L307.96,211.81 L308.52,208.06 L309.08,204.6 L309.64,201.51 L310.21,198.87 L310.77,196.75 L311.33,195.19 L311.9,194.25 L312.46,193.93 L313.04,194.28 L313.61,195.33 L314.19,197.05 L314.76,199.39 L315.34,202.28 L315.91,205.66 L316.49,209.42 L317.06,213.46 L317.64,217.68 L318.21,221.95 L318.79,226.17 L319.36,230.21 L319.94,233.97 L320.51,237.35 L321.09,240.24 L321.66,242.58 L322.24,244.3 L322.81,245.35 L323.39,245.7 L323.96,245.27 L324.54,244.0 L325.11,241.91 L325.69,239.07 L326.26,235.56 L326.84,231.46 L327.41,226.89 L327.99,221.98 L328.56,216.86 L329.14,211.67 L329.71,206.55 L330.29,201.64 L330.86,197.07 L331.44,192.98 L332.01,189.46 L332.59,186.62 L333.16,184.54 L333.74,183.26 L334.31,182.83 L334.87,183.17 L335.44,184.18 L336.0,185.84 L336.56,188.1 L337.13,190.91 L337.69,194.2 L338.25,197.89 L338.82,201.88 L339.38,206.09 L339.94,210.4 L340.51,214.71 L341.07,218.92 L341.63,222.92 L342.2,226.61 L342.76,229.89 L343.32,232.7 L343.88,234.96 L344.45,236.62 L345.01,237.63 L345.57,237.97 L346.14,237.63 L346.7,236.62 L347.26,234.96 L347.83,232.7 L348.39,229.89 L348.95,226.61 L349.52,222.92 L350.08,218.92 L350.64,214.71 L351.21,210.4 L351.77,206.09 L352.33,201.88 L352.89,197.89 L353.46,194.2 L354.02,190.91 L354.58,188.1 L355.15,185.84 L355.71,184.18 L356.27,183.17 L356.84,182.83 L357.4,183.17 L357.96,184.18 L358.53,185.84 L359.09,188.1 L359.65,190.91 L360.22,194.2 L360.78,197.89 L361.34,201.88 L361.9,206.09 L362.47,210.4 L363.03,214.71 L363.59,218.92 L364.16,222.92 L364.72,226.61 L365.28,229.89 L365.85,232.7 L366.41,234.96 L366.97,236.62 L367.54,237.63 L368.1,237.97 L368.66,237.63 L369.23,236.62 L369.79,234.96 L370.35,232.7 L370.91,229.89 L371.48,226.61 L372.04,222.92 L372.6,218.92 L373.17,214.71 L373.73,210.4 L374.29,206.09 L374.86,201.88 L375.42,197.89 L375.98,194.2 L376.55,190.91 L377.11,188.1 L377.67,185.84 L378.24,184.18 L378.8,183.17 L379.36,182.83 L379.92,183.17 L380.49,184.18 L381.05,185.84 L381.61,188.1 L382.18,190.91 L382.74,194.2 L383.3,197.89 L383.87,201.88 L384.43,206.09 L384.99,210.4 L385.56,214.71 L386.12,218.92 L386.68,222.92 L387.24,226.61 L387.81,229.89 L388.37,232.7 L388.93,234.96 L389.5,236.62 L390.06,237.63 L390.62,237.97 L391.19,237.63 L391.75,236.62 L392.31,234.96 L392.88,232.7 L393.44,229.89 L394.0,226.61 L394.57,222.92 L395.13,218.92 L395.69,214.71 L396.25,210.4 L396.82,206.09 L397.38,201.88 L397.94,197.89 L398.51,194.2 L399.07,190.91 L399.63,188.1 L400.2,185.84 L400.76,184.18 L401.32,183.17 L401.89,182.83 L402.45,183.17 L403.01,184.18 L403.58,185.84 L404.14,188.1 L404.7,190.91 L405.26,194.2 L405.83,197.89 L406.39,201.88 L406.95,206.09 L407.52,210.4 L408.08,214.71 L408.64,218.92 L409.21,222.92 L409.77,226.61 L410.33,229.89 L410.9,232.7 L411.46,234.96 L412.02,236.62 L412.59,237.63 L413.15,237.97 L413.71,237.63 L414.27,236.62 L414.84,234.96 L415.4,232.7 L415.96,229.89 L416.53,226.61 L417.09,222.92 L417.65,218.92 L418.22,214.71 L418.78,210.4 L419.34,206.09 L419.91,201.88 L420.47,197.89 L421.03,194.2 L421.6,190.91 L422.16,188.1 L422.72,185.84 L423.28,184.18 L423.85,183.17 L424.41,182.83 L424.97,183.17 L425.54,184.18 L426.1,185.84 L426.66,188.1 L427.23,190.91 L427.79,194.2 L428.35,197.89 L428.92,201.88 L429.48,206.09 L430.04,210.4 L430.61,214.71 L431.17,218.92 L431.73,222.92 L432.29,226.61 L432.86,229.89 L433.42,232.7 L433.98,234.96 L434.55,236.62 L435.11,237.63 L435.67,237.97 L436.24,237.63 L436.8,236.62 L437.36,234.96 L437.93,232.7 L438.49,229.89 L439.05,226.61 L439.61,222.92 L440.18,218.92 L440.74,214.71 L441.3,210.4 L441.87,206.09 L442.43,201.88 L442.99,197.89 L443.56,194.2 L444.12,190.91 L444.68,188.1 L445.25,185.84 L445.81,184.18 L446.37,183.17 L446.94,182.83 L447.51,183.22 L448.09,184.38 L448.66,186.28 L449.24,188.86 L449.81,192.05 L450.39,195.78 L450.96,199.93 L451.54,204.39 L452.11,209.05 L452.69,213.77 L453.26,218.42 L453.84,222.89 L454.41,227.04 L454.99,230.76 L455.56,233.96 L456.14,236.54 L456.71,238.44 L457.29,239.6 L457.86,239.99 L458.44,239.53 L459.01,238.16 L459.59,235.91 L460.16,232.86 L460.74,229.08 L461.31,224.68 L461.89,219.77 L462.46,214.49 L463.04,208.99 L463.61,203.41 L464.19,197.9 L464.76,192.63 L465.34,187.72 L465.91,183.31 L466.49,179.53 L467.06,176.48 L467.64,174.24 L468.21,172.87 L468.79,172.41 L469.35,172.76 L469.91,173.8 L470.48,175.51 L471.04,177.84 L471.6,180.73 L472.17,184.12 L472.73,187.92 L473.29,192.04 L473.86,196.38 L474.42,200.82 L474.98,205.26 L475.54,209.6 L476.11,213.72 L476.67,217.52 L477.23,220.91 L477.8,223.8 L478.36,226.13 L478.92,227.84 L479.49,228.88 L480.05,229.23 L480.61,228.88 L481.18,227.84 L481.74,226.13 L482.3,223.8 L482.87,220.91 L483.43,217.52 L483.99,213.72 L484.55,209.6 L485.12,205.26 L485.68,200.82 L486.24,196.38 L486.81,192.04 L487.37,187.92 L487.93,184.12 L488.5,180.73 L489.06,177.84 L489.62,175.51 L490.19,173.8 L490.75,172.76 L491.31,172.41 L491.88,172.76 L492.44,173.8 L493.0,175.51 L493.56,177.84 L494.13,180.73 L494.69,184.12 L495.25,187.92 L495.82,192.04 L496.38,196.38 L496.94,200.82 L497.51,205.26 L498.07,209.6 L498.63,213.72 L499.2,217.52 L499.76,220.91 L500.32,223.8 L500.88,226.13 L501.45,227.84 L502.01,228.88 L502.57,229.23 L503.14,228.88 L503.7,227.84 L504.26,226.13 L504.83,223.8 L505.39,220.91 L505.95,217.52 L506.52,213.72 L507.08,209.6 L507.64,205.26 L508.21,200.82 L508.77,196.38 L509.33,192.04 L509.89,187.92 L510.46,184.12 L511.02,180.73 L511.58,177.84 L512.15,175.51 L512.71,173.8 L513.27,172.76 L513.84,172.41 L514.4,172.76 L514.96,173.8 L515.53,175.51 L516.09,177.84 L516.65,180.73 L517.22,184.12 L517.78,187.92 L518.34,192.04 L518.9,196.38 L519.47,200.82 L520.03,205.26 L520.59,209.6 L521.16,213.72 L521.72,217.52 L522.28,220.91 L522.85,223.8 L523.41,226.13 L523.97,227.84 L524.54,228.88 L525.1,229.23 L525.66,228.88 L526.23,227.84 L526.79,226.13 L527.35,223.8 L527.91,220.91 L528.48,217.52 L529.04,213.72 L529.6,209.6 L530.17,205.26 L530.73,200.82 L531.29,196.38 L531.86,192.04 L532.42,187.92 L532.98,184.12 L533.55,180.73 L534.11,177.84 L534.67,175.51 L535.24,173.8 L535.8,172.76 L536.36,172.41 L536.92,172.76 L537.49,173.8 L538.05,175.51 L538.61,177.84 L539.18,180.73 L539.74,184.12 L540.3,187.92 L540.87,192.04 L541.43,196.38 L541.99,200.82 L542.56,205.26 L543.12,209.6 L543.68,213.72 L544.25,217.52 L544.81,220.91 L545.37,223.8 L545.93,226.13 L546.5,227.84 L547.06,228.88 L547.62,229.23 L548.19,228.88 L548.75,227.84 L549.31,226.13 L549.88,223.8 L550.44,220.91 L551.0,217.52 L551.57,213.72 L552.13,209.6 L552.69,205.26 L553.25,200.82 L553.82,196.38 L554.38,192.04 L554.94,187.92 L555.51,184.12 L556.07,180.73 L556.63,177.84 L557.2,175.51 L557.76,173.8 L558.32,172.76 L558.89,172.41 L559.45,172.76 L560.01,173.8 L560.58,175.51 L561.14,177.84 L561.7,180.73 L562.26,184.12 L562.83,187.92 L563.39,192.04 L563.95,196.38 L564.52,200.82 L565.08,205.26 L565.64,209.6 L566.21,213.72 L566.77,217.52 L567.33,220.91 L567.9,223.8 L568.46,226.13 L569.02,227.84 L569.59,228.88 L570.15,229.23 L570.71,228.88 L571.27,227.84 L571.84,226.13 L572.4,223.8 L572.96,220.91 L573.53,217.52 L574.09,213.72 L574.65,209.6 L575.22,205.26 L575.78,200.82 L576.34,196.38 L576.91,192.04 L577.47,187.92 L578.03,184.12 L578.6,180.73 L579.16,177.84 L579.72,175.51 L580.28,173.8 L580.85,172.76 L581.41,172.41 L581.99,172.8 L582.56,173.97 L583.14,175.87 L583.71,178.47 L584.29,181.69 L584.86,185.43 L585.44,189.61 L586.01,194.1 L586.59,198.78 L587.16,203.53 L587.74,208.21 L588.31,212.7 L588.89,216.88 L589.46,220.62 L590.04,223.84 L590.61,226.44 L591.19,228.34 L591.76,229.51 L592.34,229.9 L592.91,229.36 L593.49,227.76 L594.06,225.14 L594.64,221.57 L595.21,217.15 L595.79,212.0 L596.36,206.27 L596.94,200.09 L597.51,193.66 L598.09,187.13 L598.66,180.7 L599.24,174.53 L599.81,168.79 L600.39,163.64 L600.96,159.22 L601.54,155.65 L602.11,153.03 L602.69,151.43 L603.26,150.89 L603.83,151.24 L604.39,152.26 L604.95,153.94 L605.52,156.22 L606.08,159.07 L606.64,162.4 L607.2,166.13 L607.77,170.18 L608.33,174.43 L608.89,178.8 L609.46,183.16 L610.02,187.42 L610.58,191.47 L611.15,195.2 L611.71,198.53 L612.27,201.37 L612.84,203.66 L613.4,205.34 L613.96,206.36 L614.52,206.7 L615.09,206.36 L615.65,205.34 L616.21,203.66 L616.78,201.37 L617.34,198.53 L617.9,195.2 L618.47,191.47 L619.03,187.42 L619.59,183.16 L620.16,178.8 L620.72,174.43 L621.28,170.18 L621.85,166.13 L622.41,162.4 L622.97,159.07 L623.53,156.22 L624.1,153.94 L624.66,152.26 L625.22,151.24 L625.79,150.89 L626.35,151.24 L626.91,152.26 L627.48,153.94 L628.04,156.22 L628.6,159.07 L629.17,162.4 L629.73,166.13 L630.29,170.18 L630.86,174.43 L631.42,178.8 L631.98,183.16 L632.54,187.42 L633.11,191.47 L633.67,195.2 L634.23,198.53 L634.8,201.37 L635.36,203.66 L635.92,205.34 L636.49,206.36 L637.05,206.7 L637.61,206.36 L638.18,205.34 L638.74,203.66 L639.3,201.37 L639.87,198.53 L640.43,195.2 L640.99,191.47 L641.55,187.42 L642.12,183.16 L642.68,178.8 L643.24,174.43 L643.81,170.18 L644.37,166.13 L644.93,162.4 L645.5,159.07 L646.06,156.22 L646.62,153.94 L647.19,152.26 L647.75,151.24 L648.31,150.89 L648.88,151.24 L649.44,152.26 L650.0,153.94 L650.56,156.22 L651.13,159.07 L651.69,162.4 L652.25,166.13 L652.82,170.18 L653.38,174.43 L653.94,178.8 L654.51,183.16 L655.07,187.42 L655.63,191.47 L656.2,195.2 L656.76,198.53 L657.32,201.37 L657.89,203.66 L658.45,205.34 L659.01,206.36 L659.57,206.7 L660.14,206.36 L660.7,205.34 L661.26,203.66 L661.83,201.37 L662.39,198.53 L662.95,195.2 L663.52,191.47 L664.08,187.42 L664.64,183.16 L665.21,178.8 L665.77,174.43 L666.33,170.18 L666.89,166.13 L667.46,162.4 L668.02,159.07 L668.58,156.22 L669.15,153.94 L669.71,152.26 L670.27,151.24 L670.84,150.89 L671.4,151.24 L671.96,152.26 L672.53,153.94 L673.09,156.22 L673.65,159.07 L674.22,162.4 L674.78,166.13 L675.34,170.18 L675.9,174.43 L676.47,178.8 L677.03,183.16 L677.59,187.42 L678.16,191.47 L678.72,195.2 L679.28,198.53 L679.85,201.37 L680.41,203.66 L680.97,205.34 L681.54,206.36 L682.1,206.7 L682.66,206.36 L683.23,205.34 L683.79,203.66 L684.35,201.37 L684.91,198.53 L685.48,195.2 L686.04,191.47 L686.6,187.42 L687.17,183.16 L687.73,178.8 L688.29,174.43 L688.86,170.18 L689.42,166.13 L689.98,162.4 L690.55,159.07 L691.11,156.22 L691.67,153.94 L692.24,152.26 L692.8,151.24 L693.36,150.89 L693.92,151.24 L694.49,152.26 L695.05,153.94 L695.61,156.22 L696.18,159.07 L696.74,162.4 L697.3,166.13 L697.87,170.18 L698.43,174.43 L698.99,178.8 L699.56,183.16 L700.12,187.42 L700.68,191.47 L701.25,195.2 L701.81,198.53 L702.37,201.37 L702.93,203.66 L703.5,205.34 L704.06,206.36 L704.62,206.7 L705.19,206.36 L705.75,205.34 L706.31,203.66 L706.88,201.37 L707.44,198.53 L708.0,195.2 L708.57,191.47 L709.13,187.42 L709.69,183.16 L710.26,178.8 L710.82,174.43 L711.38,170.18 L711.94,166.13 L712.51,162.4 L713.07,159.07 L713.63,156.22 L714.2,153.94 L714.76,152.26 L715.32,151.24 L715.89,150.89 L716.47,151.33 L717.05,152.64 L717.63,154.77 L718.21,157.66 L718.8,161.22 L719.38,165.35 L719.96,169.92 L720.54,174.79 L721.12,179.81 L721.71,184.83 L722.29,189.7 L722.87,194.26 L723.45,198.39 L724.04,201.96 L724.62,204.85 L725.2,206.98 L725.78,208.28 L726.36,208.72 L726.95,208.09 L727.53,206.21 L728.11,203.13 L728.69,198.97 L729.27,193.83 L729.86,187.88 L730.44,181.29 L731.02,174.27 L731.6,167.03 L732.18,159.79 L732.77,152.77 L733.35,146.19 L733.93,140.23 L734.51,135.1 L735.09,130.93 L735.68,127.86 L736.26,125.98 L736.84,125.34 L737.4,125.69 L737.97,126.74 L738.53,128.46 L739.09,130.8 L739.66,133.71 L740.22,137.12 L740.78,140.95 L741.35,145.09 L741.91,149.45 L742.47,153.92 L743.03,158.39 L743.6,162.75 L744.16,166.89 L744.72,170.72 L745.29,174.13 L745.85,177.04 L746.41,179.38 L746.98,181.1 L747.54,182.14 L748.1,182.5 L748.67,182.14 L749.23,181.1 L749.79,179.38 L750.36,177.04 L750.92,174.13 L751.48,170.72 L752.04,166.89 L752.61,162.75 L753.17,158.39 L753.73,153.92 L754.3,149.45 L754.86,145.09 L755.42,140.95 L755.99,137.12 L756.55,133.71 L757.11,130.8 L757.68,128.46 L758.24,126.74 L758.8,125.69 L759.37,125.34 L759.93,125.69 L760.49,126.74 L761.05,128.46 L761.62,130.8 L762.18,133.71 L762.74,137.12 L763.31,140.95 L763.87,145.09 L764.43,149.45 L765.0,153.92 L765.56,158.39 L766.12,162.75 L766.69,166.89 L767.25,170.72 L767.81,174.13 L768.38,177.04 L768.94,179.38 L769.5,181.1 L770.06,182.14 L770.63,182.5 L771.19,182.14 L771.75,181.1 L772.32,179.38 L772.88,177.04 L773.44,174.13 L774.01,170.72 L774.57,166.89 L775.13,162.75 L775.7,158.39 L776.26,153.92 L776.82,149.45 L777.39,145.09 L777.95,140.95 L778.51,137.12 L779.07,133.71 L779.64,130.8 L780.2,128.46 L780.76,126.74 L781.33,125.69 L781.89,125.34 L782.45,125.69 L783.02,126.74 L783.58,128.46 L784.14,130.8 L784.71,133.71 L785.27,137.12 L785.83,140.95 L786.39,145.09 L786.96,149.45 L787.52,153.92 L788.08,158.39 L788.65,162.75 L789.21,166.89 L789.77,170.72 L790.34,174.13 L790.9,177.04 L791.46,179.38 L792.03,181.1 L792.59,182.14 L793.15,182.5 L793.72,182.14 L794.28,181.1 L794.84,179.38 L795.4,177.04 L795.97,174.13 L796.53,170.72 L797.09,166.89 L797.66,162.75 L798.22,158.39 L798.78,153.92 L799.35,149.45 L799.91,145.09 L800.47,140.95 L801.04,137.12 L801.6,133.71 L802.16,130.8 L802.73,128.46 L803.29,126.74 L803.85,125.69 L804.41,125.34 L804.98,125.69 L805.54,126.74 L806.1,128.46 L806.67,130.8 L807.23,133.71 L807.79,137.12 L808.36,140.95 L808.92,145.09 L809.48,149.45 L810.05,153.92 L810.61,158.39 L811.17,162.75 L811.74,166.89 L812.3,170.72 L812.86,174.13 L813.42,177.04 L813.99,179.38 L814.55,181.1 L815.11,182.14 L815.68,182.5 L816.24,182.14 L816.8,181.1 L817.37,179.38 L817.93,177.04 L818.49,174.13 L819.06,170.72 L819.62,166.89 L820.18,162.75 L820.75,158.39 L821.31,153.92 L821.87,149.45 L822.43,145.09 L823.0,140.95 L823.56,137.12 L824.12,133.71 L824.69,130.8 L825.25,128.46 L825.81,126.74 L826.38,125.69 L826.94,125.34 L827.5,125.69 L828.07,126.74 L828.63,128.46 L829.19,130.8 L829.76,133.71 L830.32,137.12 L830.88,140.95 L831.44,145.09 L832.01,149.45 L832.57,153.92 L833.13,158.39 L833.7,162.75 L834.26,166.89 L834.82,170.72 L835.39,174.13 L835.95,177.04 L836.51,179.38 L837.08,181.1 L837.64,182.14 L838.2,182.5 L838.76,182.17 L839.33,181.2 L839.89,179.6 L840.45,177.42 L841.02,174.72 L841.58,171.55 L842.14,167.99 L842.71,164.14 L843.27,160.09 L843.83,155.94 L844.4,151.78 L844.96,147.73 L845.52,143.88 L846.09,140.33 L846.65,137.16 L847.21,134.45 L847.77,132.27 L848.34,130.68 L848.9,129.7 L849.46,129.38 L850.04,129.72 L850.61,130.73 L851.19,132.38 L851.76,134.64 L852.34,137.45 L852.91,140.74 L853.48,144.43 L854.06,148.43 L854.63,152.63 L855.21,156.95 L855.78,161.26 L856.36,165.46 L856.93,169.46 L857.5,173.15 L858.08,176.44 L858.65,179.25 L859.23,181.51 L859.8,183.16 L860.38,184.17 L860.95,184.51 L861.53,184.0 L862.1,182.49 L862.67,180.01 L863.25,176.62 L863.82,172.4 L864.4,167.47 L864.97,161.93 L865.55,155.94 L866.12,149.63 L866.69,143.16 L867.27,136.69 L867.84,130.38 L868.42,124.39 L868.99,118.85 L869.57,113.92 L870.14,109.71 L870.71,106.32 L871.29,103.83 L871.86,102.32 L872.44,101.81 L873.0,102.15 L873.56,103.17 L874.13,104.83 L874.69,107.11 L875.25,109.93 L875.82,113.24 L876.38,116.95 L876.94,120.97 L877.51,125.21 L878.07,129.54 L878.63,133.88 L879.2,138.12 L879.76,142.14 L880.32,145.85 L880.88,149.16 L881.45,151.98 L882.01,154.26 L882.57,155.92 L883.14,156.94 L883.7,157.28 L884.26,156.94 L884.83,155.92 L885.39,154.26 L885.95,151.98 L886.52,149.16 L887.08,145.85 L887.64,142.14 L888.21,138.12 L888.77,133.88 L889.33,129.54 L889.89,125.21 L890.46,120.97 L891.02,116.95 L891.58,113.24 L892.15,109.93 L892.71,107.11 L893.27,104.83 L893.84,103.17 L894.4,102.15 L894.96,101.81 L895.53,102.15 L896.09,103.17 L896.65,104.83 L897.21,107.11 L897.78,109.93 L898.34,113.24 L898.9,116.95 L899.47,120.97 L900.03,125.21 L900.59,129.54 L901.16,133.88 L901.72,138.12 L902.28,142.14 L902.85,145.85 L903.41,149.16 L903.97,151.98 L904.54,154.26 L905.1,155.92 L905.66,156.94 L906.22,157.28 L906.79,156.94 L907.35,155.92 L907.91,154.26 L908.48,151.98 L909.04,149.16 L909.6,145.85 L910.17,142.14 L910.73,138.12 L911.29,133.88 L911.86,129.54 L912.42,125.21 L912.98,120.97 L913.55,116.95 L914.11,113.24 L914.67,109.93 L915.23,107.11 L915.8,104.83 L916.36,103.17 L916.92,102.15 L917.49,101.81 L918.05,102.15 L918.61,103.17 L919.18,104.83 L919.74,107.11 L920.3,109.93 L920.87,113.24 L921.43,116.95 L921.99,120.97 L922.56,125.21 L923.12,129.54 L923.68,133.88 L924.24,138.12 L924.81,142.14 L925.37,145.85 L925.93,149.16 L926.5,151.98 L927.06,154.26 L927.62,155.92 L928.19,156.94 L928.75,157.28 L929.31,156.94 L929.88,155.92 L930.44,154.26 L931.0,151.98 L931.57,149.16 L932.13,145.85 L932.69,142.14 L933.25,138.12 L933.82,133.88 L934.38,129.54 L934.94,125.21 L935.51,120.97 L936.07,116.95 L936.63,113.24 L937.2,109.93 L937.76,107.11 L938.32,104.83 L938.89,103.17 L939.45,102.15 L940.01,101.81 L940.59,102.14 L941.17,103.12 L941.75,104.73 L942.33,106.92 L942.91,109.64 L943.49,112.81 L944.08,116.35 L944.66,120.18 L945.24,124.18 L945.82,128.26 L946.4,132.31 L946.98,136.22 L947.56,139.89 L948.14,143.22 L948.72,146.13 L949.3,148.54" fill="none" stroke="rgb(12,32,134)" stroke-width="3.3" stroke-dasharray="9 8" stroke-dashoffset="0" stroke-linejoin="round"/>
</g>
<line x1="51.90" y1="343.2" x2="51.90" y2="333.4" stroke="#1c1c1c" stroke-width="2.0"/>
<line x1="51.90" y1="7.0" x2="51.90" y2="16.8" stroke="#1c1c1c" stroke-width="2.0"/>
<line x1="164.07" y1="343.2" x2="164.07" y2="333.4" stroke="#1c1c1c" stroke-width="2.0"/>
<line x1="164.07" y1="7.0" x2="164.07" y2="16.8" stroke="#1c1c1c" stroke-width="2.0"/>
<line x1="276.25" y1="343.2" x2="276.25" y2="333.4" stroke="#1c1c1c" stroke-width="2.0"/>
<line x1="276.25" y1="7.0" x2="276.25" y2="16.8" stroke="#1c1c1c" stroke-width="2.0"/>
<line x1="388.42" y1="343.2" x2="388.42" y2="333.4" stroke="#1c1c1c" stroke-width="2.0"/>
<line x1="388.42" y1="7.0" x2="388.42" y2="16.8" stroke="#1c1c1c" stroke-width="2.0"/>
<line x1="500.60" y1="343.2" x2="500.60" y2="333.4" stroke="#1c1c1c" stroke-width="2.0"/>
<line x1="500.60" y1="7.0" x2="500.60" y2="16.8" stroke="#1c1c1c" stroke-width="2.0"/>
<line x1="612.77" y1="343.2" x2="612.77" y2="333.4" stroke="#1c1c1c" stroke-width="2.0"/>
<line x1="612.77" y1="7.0" x2="612.77" y2="16.8" stroke="#1c1c1c" stroke-width="2.0"/>
<line x1="724.95" y1="343.2" x2="724.95" y2="333.4" stroke="#1c1c1c" stroke-width="2.0"/>
<line x1="724.95" y1="7.0" x2="724.95" y2="16.8" stroke="#1c1c1c" stroke-width="2.0"/>
<line x1="837.12" y1="343.2" x2="837.12" y2="333.4" stroke="#1c1c1c" stroke-width="2.0"/>
<line x1="837.12" y1="7.0" x2="837.12" y2="16.8" stroke="#1c1c1c" stroke-width="2.0"/>
<line x1="949.30" y1="343.2" x2="949.30" y2="333.4" stroke="#1c1c1c" stroke-width="2.0"/>
<line x1="949.30" y1="7.0" x2="949.30" y2="16.8" stroke="#1c1c1c" stroke-width="2.0"/>
<line x1="51.9" y1="343.20" x2="61.7" y2="343.20" stroke="#1c1c1c" stroke-width="2.0"/>
<line x1="949.3" y1="343.20" x2="939.5" y2="343.20" stroke="#1c1c1c" stroke-width="2.0"/>
<line x1="51.9" y1="275.96" x2="61.7" y2="275.96" stroke="#1c1c1c" stroke-width="2.0"/>
<line x1="949.3" y1="275.96" x2="939.5" y2="275.96" stroke="#1c1c1c" stroke-width="2.0"/>
<line x1="51.9" y1="208.72" x2="61.7" y2="208.72" stroke="#1c1c1c" stroke-width="2.0"/>
<line x1="949.3" y1="208.72" x2="939.5" y2="208.72" stroke="#1c1c1c" stroke-width="2.0"/>
<line x1="51.9" y1="141.48" x2="61.7" y2="141.48" stroke="#1c1c1c" stroke-width="2.0"/>
<line x1="949.3" y1="141.48" x2="939.5" y2="141.48" stroke="#1c1c1c" stroke-width="2.0"/>
<line x1="51.9" y1="74.24" x2="61.7" y2="74.24" stroke="#1c1c1c" stroke-width="2.0"/>
<line x1="949.3" y1="74.24" x2="939.5" y2="74.24" stroke="#1c1c1c" stroke-width="2.0"/>
<line x1="51.9" y1="7.00" x2="61.7" y2="7.00" stroke="#1c1c1c" stroke-width="2.0"/>
<line x1="949.3" y1="7.00" x2="939.5" y2="7.00" stroke="#1c1c1c" stroke-width="2.0"/>
<rect x="51.9" y="7.0" width="897.40" height="336.20" fill="none" stroke="#1c1c1c" stroke-width="2.0"/>
<text transform="translate(51.90,371.8) scale(1,1.07)" class="tk" text-anchor="middle">0</text>
<text transform="translate(164.07,371.8) scale(1,1.07)" class="tk" text-anchor="middle">50</text>
<text transform="translate(276.25,371.8) scale(1,1.07)" class="tk" text-anchor="middle">100</text>
<text transform="translate(388.42,371.8) scale(1,1.07)" class="tk" text-anchor="middle">150</text>
<text transform="translate(500.60,371.8) scale(1,1.07)" class="tk" text-anchor="middle">200</text>
<text transform="translate(612.77,371.8) scale(1,1.07)" class="tk" text-anchor="middle">250</text>
<text transform="translate(724.95,371.8) scale(1,1.07)" class="tk" text-anchor="middle">300</text>
<text transform="translate(837.12,371.8) scale(1,1.07)" class="tk" text-anchor="middle">350</text>
<text transform="translate(949.30,371.8) scale(1,1.07)" class="tk" text-anchor="middle">400</text>
<text transform="translate(43.90,350.9) scale(1,1.07)" class="tk" text-anchor="end">-2</text>
<text transform="translate(43.90,283.7) scale(1,1.07)" class="tk" text-anchor="end">0</text>
<text transform="translate(43.90,216.4) scale(1,1.07)" class="tk" text-anchor="end">2</text>
<text transform="translate(43.90,149.2) scale(1,1.07)" class="tk" text-anchor="end">4</text>
<text transform="translate(43.90,81.9) scale(1,1.07)" class="tk" text-anchor="end">6</text>
<text transform="translate(43.90,14.7) scale(1,1.07)" class="tk" text-anchor="end">8</text>
<rect x="63.9" y="19.2" width="164.4" height="50.2" fill="#fff" stroke="#1c1c1c" stroke-width="3"/>
<line x1="68" y1="32.6" x2="112.4" y2="32.6" stroke="#ff0000" stroke-width="3"/>
<text x="120.5" y="39.2" class="lg" style="font-size:18.7px" xml:space="preserve">ANN  Model</text>
<line x1="68" y1="55.9" x2="112.4" y2="55.9" stroke="rgb(12,32,134)" stroke-width="3" stroke-dasharray="9 8.7"/>
<text x="115.8" y="62.5" class="lg" style="font-size:18.6px" xml:space="preserve">FAST Model</text>
<line x1="1207.50" y1="10.0" x2="1207.50" y2="342.5" stroke="#dadada" stroke-width="1.5"/>
<line x1="1319.50" y1="10.0" x2="1319.50" y2="342.5" stroke="#dadada" stroke-width="1.5"/>
<line x1="1431.50" y1="10.0" x2="1431.50" y2="342.5" stroke="#dadada" stroke-width="1.5"/>
<line x1="1543.50" y1="10.0" x2="1543.50" y2="342.5" stroke="#dadada" stroke-width="1.5"/>
<line x1="1655.50" y1="10.0" x2="1655.50" y2="342.5" stroke="#dadada" stroke-width="1.5"/>
<line x1="1767.50" y1="10.0" x2="1767.50" y2="342.5" stroke="#dadada" stroke-width="1.5"/>
<line x1="1879.50" y1="10.0" x2="1879.50" y2="342.5" stroke="#dadada" stroke-width="1.5"/>
<line x1="1095.5" y1="287.08" x2="1991.5" y2="287.08" stroke="#dadada" stroke-width="1.5"/>
<line x1="1095.5" y1="231.67" x2="1991.5" y2="231.67" stroke="#dadada" stroke-width="1.5"/>
<line x1="1095.5" y1="176.25" x2="1991.5" y2="176.25" stroke="#dadada" stroke-width="1.5"/>
<line x1="1095.5" y1="120.83" x2="1991.5" y2="120.83" stroke="#dadada" stroke-width="1.5"/>
<line x1="1095.5" y1="65.42" x2="1991.5" y2="65.42" stroke="#dadada" stroke-width="1.5"/>
<g clip-path="url(#cr)">
<path d="M1095.5,215.6 L1096.08,215.41 L1096.65,214.87 L1097.23,213.98 L1097.8,212.76 L1098.38,211.23 L1098.96,209.44 L1099.53,207.42 L1100.11,205.22 L1100.68,202.89 L1101.26,200.47 L1101.84,198.03 L1102.41,195.61 L1102.99,193.28 L1103.56,191.07 L1104.14,189.06 L1104.72,187.26 L1105.29,185.74 L1105.87,184.52 L1106.44,183.63 L1107.02,183.08 L1107.6,182.9 L1108.16,183.12 L1108.72,183.78 L1109.28,184.86 L1109.84,186.34 L1110.41,188.18 L1110.97,190.32 L1111.53,192.73 L1112.09,195.34 L1112.66,198.09 L1113.22,200.91 L1113.78,203.73 L1114.34,206.48 L1114.91,209.09 L1115.47,211.5 L1116.03,213.65 L1116.59,215.48 L1117.15,216.96 L1117.72,218.04 L1118.28,218.7 L1118.84,218.92 L1119.4,218.7 L1119.97,218.04 L1120.53,216.96 L1121.09,215.48 L1121.65,213.65 L1122.21,211.5 L1122.78,209.09 L1123.34,206.48 L1123.9,203.73 L1124.46,200.91 L1125.03,198.09 L1125.59,195.34 L1126.15,192.73 L1126.71,190.32 L1127.27,188.18 L1127.84,186.34 L1128.4,184.86 L1128.96,183.78 L1129.52,183.12 L1130.09,182.9 L1130.65,183.12 L1131.21,183.78 L1131.77,184.86 L1132.33,186.34 L1132.9,188.18 L1133.46,190.32 L1134.02,192.73 L1134.58,195.34 L1135.15,198.09 L1135.71,200.91 L1136.27,203.73 L1136.83,206.48 L1137.39,209.09 L1137.96,211.5 L1138.52,213.65 L1139.08,215.48 L1139.64,216.96 L1140.21,218.04 L1140.77,218.7 L1141.33,218.92 L1141.89,218.7 L1142.45,218.04 L1143.02,216.96 L1143.58,215.48 L1144.14,213.65 L1144.7,211.5 L1145.27,209.09 L1145.83,206.48 L1146.39,203.73 L1146.95,200.91 L1147.52,198.09 L1148.08,195.34 L1148.64,192.73 L1149.2,190.32 L1149.76,188.18 L1150.33,186.34 L1150.89,184.86 L1151.45,183.78 L1152.01,183.12 L1152.58,182.9 L1153.14,183.12 L1153.7,183.78 L1154.26,184.86 L1154.82,186.34 L1155.39,188.18 L1155.95,190.32 L1156.51,192.73 L1157.07,195.34 L1157.64,198.09 L1158.2,200.91 L1158.76,203.73 L1159.32,206.48 L1159.88,209.09 L1160.45,211.5 L1161.01,213.65 L1161.57,215.48 L1162.13,216.96 L1162.7,218.04 L1163.26,218.7 L1163.82,218.92 L1164.38,218.7 L1164.94,218.04 L1165.51,216.96 L1166.07,215.48 L1166.63,213.65 L1167.19,211.5 L1167.76,209.09 L1168.32,206.48 L1168.88,203.73 L1169.44,200.91 L1170.0,198.09 L1170.57,195.34 L1171.13,192.73 L1171.69,190.32 L1172.25,188.18 L1172.82,186.34 L1173.38,184.86 L1173.94,183.78 L1174.5,183.12 L1175.06,182.9 L1175.63,183.12 L1176.19,183.78 L1176.75,184.86 L1177.31,186.34 L1177.88,188.18 L1178.44,190.32 L1179.0,192.73 L1179.56,195.34 L1180.12,198.09 L1180.69,200.91 L1181.25,203.73 L1181.81,206.48 L1182.37,209.09 L1182.94,211.5 L1183.5,213.65 L1184.06,215.48 L1184.62,216.96 L1185.19,218.04 L1185.75,218.7 L1186.31,218.92 L1186.87,218.7 L1187.43,218.04 L1188.0,216.96 L1188.56,215.48 L1189.12,213.65 L1189.68,211.5 L1190.25,209.09 L1190.81,206.48 L1191.37,203.73 L1191.93,200.91 L1192.49,198.09 L1193.06,195.34 L1193.62,192.73 L1194.18,190.32 L1194.74,188.18 L1195.31,186.34 L1195.87,184.86 L1196.43,183.78 L1196.99,183.12 L1197.55,182.9 L1198.12,183.12 L1198.68,183.78 L1199.24,184.86 L1199.8,186.34 L1200.37,188.18 L1200.93,190.32 L1201.49,192.73 L1202.05,195.34 L1202.61,198.09 L1203.18,200.91 L1203.74,203.73 L1204.3,206.48 L1204.86,209.09 L1205.43,211.5 L1205.99,213.65 L1206.55,215.48 L1207.11,216.96 L1207.67,218.04 L1208.24,218.7 L1208.8,218.92 L1209.36,218.7 L1209.92,218.04 L1210.49,216.96 L1211.05,215.48 L1211.61,213.65 L1212.17,211.5 L1212.73,209.09 L1213.3,206.48 L1213.86,203.73 L1214.42,200.91 L1214.98,198.09 L1215.55,195.34 L1216.11,192.73 L1216.67,190.32 L1217.23,188.18 L1217.8,186.34 L1218.36,184.86 L1218.92,183.78 L1219.48,183.12 L1220.04,182.9 L1220.61,183.12 L1221.17,183.79 L1221.73,184.88 L1222.29,186.36 L1222.86,188.21 L1223.42,190.37 L1223.98,192.79 L1224.54,195.42 L1225.1,198.19 L1225.67,201.02 L1226.23,203.86 L1226.79,206.62 L1227.35,209.25 L1227.92,211.67 L1228.48,213.83 L1229.04,215.68 L1229.6,217.17 L1230.16,218.26 L1230.73,218.92 L1231.29,219.14 L1231.85,218.85 L1232.41,217.97 L1232.98,216.52 L1233.54,214.55 L1234.1,212.1 L1234.66,209.23 L1235.22,206.01 L1235.79,202.52 L1236.35,198.85 L1236.91,195.09 L1237.47,191.33 L1238.04,187.66 L1238.6,184.17 L1239.16,180.95 L1239.72,178.09 L1240.28,175.63 L1240.85,173.66 L1241.41,172.22 L1241.97,171.34 L1242.53,171.04 L1243.1,171.28 L1243.66,171.99 L1244.22,173.15 L1244.78,174.75 L1245.34,176.72 L1245.91,179.04 L1246.47,181.63 L1247.03,184.44 L1247.59,187.4 L1248.16,190.44 L1248.72,193.47 L1249.28,196.43 L1249.84,199.24 L1250.4,201.84 L1250.97,204.15 L1251.53,206.13 L1252.09,207.72 L1252.65,208.88 L1253.22,209.59 L1253.78,209.83 L1254.34,209.59 L1254.9,208.88 L1255.47,207.72 L1256.03,206.13 L1256.59,204.15 L1257.15,201.84 L1257.71,199.24 L1258.28,196.43 L1258.84,193.47 L1259.4,190.44 L1259.96,187.4 L1260.53,184.44 L1261.09,181.63 L1261.65,179.04 L1262.21,176.72 L1262.77,174.75 L1263.34,173.15 L1263.9,171.99 L1264.46,171.28 L1265.02,171.04 L1265.59,171.28 L1266.15,171.99 L1266.71,173.15 L1267.27,174.75 L1267.83,176.72 L1268.4,179.04 L1268.96,181.63 L1269.52,184.44 L1270.08,187.4 L1270.65,190.44 L1271.21,193.47 L1271.77,196.43 L1272.33,199.24 L1272.89,201.84 L1273.46,204.15 L1274.02,206.13 L1274.58,207.72 L1275.14,208.88 L1275.71,209.59 L1276.27,209.83 L1276.83,209.59 L1277.39,208.88 L1277.95,207.72 L1278.52,206.13 L1279.08,204.15 L1279.64,201.84 L1280.2,199.24 L1280.77,196.43 L1281.33,193.47 L1281.89,190.44 L1282.45,187.4 L1283.01,184.44 L1283.58,181.63 L1284.14,179.04 L1284.7,176.72 L1285.26,174.75 L1285.83,173.15 L1286.39,171.99 L1286.95,171.28 L1287.51,171.04 L1288.08,171.28 L1288.64,171.99 L1289.2,173.15 L1289.76,174.75 L1290.32,176.72 L1290.89,179.04 L1291.45,181.63 L1292.01,184.44 L1292.57,187.4 L1293.14,190.44 L1293.7,193.47 L1294.26,196.43 L1294.82,199.24 L1295.38,201.84 L1295.95,204.15 L1296.51,206.13 L1297.07,207.72 L1297.63,208.88 L1298.2,209.59 L1298.76,209.83 L1299.32,209.59 L1299.88,208.88 L1300.44,207.72 L1301.01,206.13 L1301.57,204.15 L1302.13,201.84 L1302.69,199.24 L1303.26,196.43 L1303.82,193.47 L1304.38,190.44 L1304.94,187.4 L1305.5,184.44 L1306.07,181.63 L1306.63,179.04 L1307.19,176.72 L1307.75,174.75 L1308.32,173.15 L1308.88,171.99 L1309.44,171.28 L1310.0,171.04 L1310.56,171.28 L1311.13,171.99 L1311.69,173.15 L1312.25,174.75 L1312.81,176.72 L1313.38,179.04 L1313.94,181.63 L1314.5,184.44 L1315.06,187.4 L1315.62,190.44 L1316.19,193.47 L1316.75,196.43 L1317.31,199.24 L1317.87,201.84 L1318.44,204.15 L1319.0,206.13 L1319.56,207.72 L1320.12,208.88 L1320.68,209.59 L1321.25,209.83 L1321.81,209.59 L1322.37,208.88 L1322.93,207.72 L1323.5,206.13 L1324.06,204.15 L1324.62,201.84 L1325.18,199.24 L1325.75,196.43 L1326.31,193.47 L1326.87,190.44 L1327.43,187.4 L1327.99,184.44 L1328.56,181.63 L1329.12,179.04 L1329.68,176.72 L1330.24,174.75 L1330.81,173.15 L1331.37,171.99 L1331.93,171.28 L1332.49,171.04 L1333.05,171.28 L1333.62,171.99 L1334.18,173.15 L1334.74,174.75 L1335.3,176.72 L1335.87,179.04 L1336.43,181.63 L1336.99,184.44 L1337.55,187.4 L1338.11,190.44 L1338.68,193.47 L1339.24,196.43 L1339.8,199.24 L1340.36,201.84 L1340.93,204.15 L1341.49,206.13 L1342.05,207.72 L1342.61,208.88 L1343.17,209.59 L1343.74,209.83 L1344.3,209.59 L1344.86,208.88 L1345.42,207.72 L1345.99,206.13 L1346.55,204.15 L1347.11,201.84 L1347.67,199.24 L1348.23,196.43 L1348.8,193.47 L1349.36,190.44 L1349.92,187.4 L1350.48,184.44 L1351.05,181.63 L1351.61,179.04 L1352.17,176.72 L1352.73,174.75 L1353.29,173.15 L1353.86,171.99 L1354.42,171.28 L1354.98,171.04 L1355.54,171.28 L1356.11,171.99 L1356.67,173.16 L1357.23,174.76 L1357.79,176.74 L1358.36,179.06 L1358.92,181.66 L1359.48,184.48 L1360.04,187.45 L1360.6,190.49 L1361.17,193.53 L1361.73,196.5 L1362.29,199.32 L1362.85,201.93 L1363.42,204.25 L1363.98,206.23 L1364.54,207.82 L1365.1,208.99 L1365.66,209.7 L1366.23,209.94 L1366.79,209.66 L1367.35,208.83 L1367.91,207.47 L1368.48,205.6 L1369.04,203.29 L1369.6,200.58 L1370.16,197.54 L1370.72,194.24 L1371.29,190.78 L1371.85,187.22 L1372.41,183.67 L1372.97,180.2 L1373.54,176.91 L1374.1,173.87 L1374.66,171.16 L1375.22,168.84 L1375.78,166.98 L1376.35,165.61 L1376.91,164.78 L1377.47,164.5 L1378.03,164.76 L1378.6,165.51 L1379.16,166.75 L1379.72,168.44 L1380.28,170.54 L1380.84,173.0 L1381.41,175.76 L1381.97,178.75 L1382.53,181.89 L1383.09,185.12 L1383.66,188.34 L1384.22,191.49 L1384.78,194.48 L1385.34,197.23 L1385.9,199.69 L1386.47,201.79 L1387.03,203.48 L1387.59,204.72 L1388.15,205.48 L1388.72,205.73 L1389.28,205.48 L1389.84,204.72 L1390.4,203.48 L1390.96,201.79 L1391.53,199.69 L1392.09,197.23 L1392.65,194.48 L1393.21,191.49 L1393.78,188.34 L1394.34,185.12 L1394.9,181.89 L1395.46,178.75 L1396.03,175.76 L1396.59,173.0 L1397.15,170.54 L1397.71,168.44 L1398.27,166.75 L1398.84,165.51 L1399.4,164.76 L1399.96,164.5 L1400.52,164.76 L1401.09,165.51 L1401.65,166.75 L1402.21,168.44 L1402.77,170.54 L1403.33,173.0 L1403.9,175.76 L1404.46,178.75 L1405.02,181.89 L1405.58,185.12 L1406.15,188.34 L1406.71,191.49 L1407.27,194.48 L1407.83,197.23 L1408.39,199.69 L1408.96,201.79 L1409.52,203.48 L1410.08,204.72 L1410.64,205.48 L1411.21,205.73 L1411.77,205.48 L1412.33,204.72 L1412.89,203.48 L1413.45,201.79 L1414.02,199.69 L1414.58,197.23 L1415.14,194.48 L1415.7,191.49 L1416.27,188.34 L1416.83,185.12 L1417.39,181.89 L1417.95,178.75 L1418.51,175.76 L1419.08,173.0 L1419.64,170.54 L1420.2,168.44 L1420.76,166.75 L1421.33,165.51 L1421.89,164.76 L1422.45,164.5 L1423.01,164.76 L1423.57,165.51 L1424.14,166.75 L1424.7,168.44 L1425.26,170.54 L1425.82,173.0 L1426.39,175.76 L1426.95,178.75 L1427.51,181.89 L1428.07,185.12 L1428.64,188.34 L1429.2,191.49 L1429.76,194.48 L1430.32,197.23 L1430.88,199.69 L1431.45,201.79 L1432.01,203.48 L1432.57,204.72 L1433.13,205.48 L1433.7,205.73 L1434.26,205.48 L1434.82,204.72 L1435.38,203.48 L1435.94,201.79 L1436.51,199.69 L1437.07,197.23 L1437.63,194.48 L1438.19,191.49 L1438.76,188.34 L1439.32,185.12 L1439.88,181.89 L1440.44,178.75 L1441.0,175.76 L1441.57,173.0 L1442.13,170.54 L1442.69,168.44 L1443.25,166.75 L1443.82,165.51 L1444.38,164.76 L1444.94,164.5 L1445.5,164.76 L1446.06,165.51 L1446.63,166.75 L1447.19,168.44 L1447.75,170.54 L1448.31,173.0 L1448.88,175.76 L1449.44,178.75 L1450.0,181.89 L1450.56,185.12 L1451.12,188.34 L1451.69,191.49 L1452.25,194.48 L1452.81,197.23 L1453.37,199.69 L1453.94,201.79 L1454.5,203.48 L1455.06,204.72 L1455.62,205.48 L1456.18,205.73 L1456.75,205.48 L1457.31,204.72 L1457.87,203.48 L1458.43,201.79 L1459.0,199.69 L1459.56,197.23 L1460.12,194.48 L1460.68,191.49 L1461.24,188.34 L1461.81,185.12 L1462.37,181.89 L1462.93,178.75 L1463.49,175.76 L1464.06,173.0 L1464.62,170.54 L1465.18,168.44 L1465.74,166.75 L1466.31,165.51 L1466.87,164.76 L1467.43,164.5 L1467.99,164.76 L1468.55,165.51 L1469.12,166.75 L1469.68,168.44 L1470.24,170.54 L1470.8,173.0 L1471.37,175.76 L1471.93,178.75 L1472.49,181.89 L1473.05,185.12 L1473.61,188.34 L1474.18,191.49 L1474.74,194.48 L1475.3,197.23 L1475.86,199.69 L1476.43,201.79 L1476.99,203.48 L1477.55,204.72 L1478.11,205.48 L1478.67,205.73 L1479.24,205.48 L1479.8,204.72 L1480.36,203.48 L1480.92,201.79 L1481.49,199.69 L1482.05,197.23 L1482.61,194.48 L1483.17,191.49 L1483.73,188.34 L1484.3,185.12 L1484.86,181.89 L1485.42,178.75 L1485.98,175.76 L1486.55,173.0 L1487.11,170.54 L1487.67,168.44 L1488.23,166.75 L1488.79,165.51 L1489.36,164.76 L1489.92,164.5 L1490.48,164.76 L1491.04,165.54 L1491.61,166.8 L1492.17,168.53 L1492.73,170.69 L1493.29,173.21 L1493.85,176.03 L1494.42,179.09 L1494.98,182.31 L1495.54,185.62 L1496.1,188.92 L1496.67,192.14 L1497.23,195.2 L1497.79,198.03 L1498.35,200.55 L1498.92,202.7 L1499.48,204.43 L1500.04,205.7 L1500.6,206.47 L1501.16,206.73 L1501.73,206.41 L1502.29,205.47 L1502.85,203.93 L1503.41,201.82 L1503.98,199.2 L1504.54,196.13 L1505.1,192.69 L1505.66,188.96 L1506.22,185.04 L1506.79,181.02 L1507.35,176.99 L1507.91,173.07 L1508.47,169.34 L1509.04,165.9 L1509.6,162.83 L1510.16,160.21 L1510.72,158.11 L1511.28,156.56 L1511.85,155.62 L1512.41,155.3 L1512.97,155.57 L1513.53,156.38 L1514.1,157.69 L1514.66,159.49 L1515.22,161.73 L1515.78,164.35 L1516.34,167.28 L1516.91,170.47 L1517.47,173.81 L1518.03,177.25 L1518.59,180.68 L1519.16,184.03 L1519.72,187.21 L1520.28,190.15 L1520.84,192.76 L1521.4,195.0 L1521.97,196.8 L1522.53,198.12 L1523.09,198.92 L1523.65,199.19 L1524.22,198.92 L1524.78,198.12 L1525.34,196.8 L1525.9,195.0 L1526.46,192.76 L1527.03,190.15 L1527.59,187.21 L1528.15,184.03 L1528.71,180.68 L1529.28,177.25 L1529.84,173.81 L1530.4,170.47 L1530.96,167.28 L1531.52,164.35 L1532.09,161.73 L1532.65,159.49 L1533.21,157.69 L1533.77,156.38 L1534.34,155.57 L1534.9,155.3 L1535.46,155.57 L1536.02,156.38 L1536.59,157.69 L1537.15,159.49 L1537.71,161.73 L1538.27,164.35 L1538.83,167.28 L1539.4,170.47 L1539.96,173.81 L1540.52,177.25 L1541.08,180.68 L1541.65,184.03 L1542.21,187.21 L1542.77,190.15 L1543.33,192.76 L1543.89,195.0 L1544.46,196.8 L1545.02,198.12 L1545.58,198.92 L1546.14,199.19 L1546.71,198.92 L1547.27,198.12 L1547.83,196.8 L1548.39,195.0 L1548.95,192.76 L1549.52,190.15 L1550.08,187.21 L1550.64,184.03 L1551.2,180.68 L1551.77,177.25 L1552.33,173.81 L1552.89,170.47 L1553.45,167.28 L1554.01,164.35 L1554.58,161.73 L1555.14,159.49 L1555.7,157.69 L1556.26,156.38 L1556.83,155.57 L1557.39,155.3 L1557.95,155.57 L1558.51,156.38 L1559.07,157.69 L1559.64,159.49 L1560.2,161.73 L1560.76,164.35 L1561.32,167.28 L1561.89,170.47 L1562.45,173.81 L1563.01,177.25 L1563.57,180.68 L1564.13,184.03 L1564.7,187.21 L1565.26,190.15 L1565.82,192.76 L1566.38,195.0 L1566.95,196.8 L1567.51,198.12 L1568.07,198.92 L1568.63,199.19 L1569.2,198.92 L1569.76,198.12 L1570.32,196.8 L1570.88,195.0 L1571.44,192.76 L1572.01,190.15 L1572.57,187.21 L1573.13,184.03 L1573.69,180.68 L1574.26,177.25 L1574.82,173.81 L1575.38,170.47 L1575.94,167.28 L1576.5,164.35 L1577.07,161.73 L1577.63,159.49 L1578.19,157.69 L1578.75,156.38 L1579.32,155.57 L1579.88,155.3 L1580.44,155.57 L1581.0,156.38 L1581.56,157.69 L1582.13,159.49 L1582.69,161.73 L1583.25,164.35 L1583.81,167.28 L1584.38,170.47 L1584.94,173.81 L1585.5,177.25 L1586.06,180.68 L1586.62,184.03 L1587.19,187.21 L1587.75,190.15 L1588.31,192.76 L1588.87,195.0 L1589.44,196.8 L1590.0,198.12 L1590.56,198.92 L1591.12,199.19 L1591.68,198.92 L1592.25,198.12 L1592.81,196.8 L1593.37,195.0 L1593.93,192.76 L1594.5,190.15 L1595.06,187.21 L1595.62,184.03 L1596.18,180.68 L1596.74,177.25 L1597.31,173.81 L1597.87,170.47 L1598.43,167.28 L1598.99,164.35 L1599.56,161.73 L1600.12,159.49 L1600.68,157.69 L1601.24,156.38 L1601.8,155.57 L1602.37,155.3 L1602.93,155.57 L1603.49,156.38 L1604.05,157.69 L1604.62,159.49 L1605.18,161.73 L1605.74,164.35 L1606.3,167.28 L1606.87,170.47 L1607.43,173.81 L1607.99,177.25 L1608.55,180.68 L1609.11,184.03 L1609.68,187.21 L1610.24,190.15 L1610.8,192.76 L1611.36,195.0 L1611.93,196.8 L1612.49,198.12 L1613.05,198.92 L1613.61,199.19 L1614.17,198.92 L1614.74,198.12 L1615.3,196.8 L1615.86,195.0 L1616.42,192.76 L1616.99,190.15 L1617.55,187.21 L1618.11,184.03 L1618.67,180.68 L1619.23,177.25 L1619.8,173.81 L1620.36,170.47 L1620.92,167.28 L1621.48,164.35 L1622.05,161.73 L1622.61,159.49 L1623.17,157.69 L1623.73,156.38 L1624.29,155.57 L1624.86,155.3 L1625.42,155.58 L1625.98,156.41 L1626.54,157.77 L1627.11,159.63 L1627.67,161.94 L1628.23,164.65 L1628.79,167.68 L1629.35,170.96 L1629.92,174.42 L1630.48,177.97 L1631.04,181.51 L1631.6,184.97 L1632.17,188.26 L1632.73,191.29 L1633.29,193.99 L1633.85,196.3 L1634.41,198.16 L1634.98,199.52 L1635.54,200.35 L1636.1,200.63 L1636.66,200.26 L1637.23,199.16 L1637.79,197.35 L1638.35,194.88 L1638.91,191.8 L1639.48,188.21 L1640.04,184.17 L1640.6,179.8 L1641.16,175.2 L1641.72,170.49 L1642.29,165.77 L1642.85,161.17 L1643.41,156.8 L1643.97,152.77 L1644.54,149.17 L1645.1,146.1 L1645.66,143.63 L1646.22,141.82 L1646.78,140.71 L1647.35,140.34 L1647.91,140.61 L1648.47,141.41 L1649.03,142.73 L1649.6,144.52 L1650.16,146.75 L1650.72,149.36 L1651.28,152.29 L1651.84,155.47 L1652.41,158.81 L1652.97,162.23 L1653.53,165.65 L1654.09,168.99 L1654.66,172.17 L1655.22,175.1 L1655.78,177.71 L1656.34,179.94 L1656.9,181.73 L1657.47,183.05 L1658.03,183.85 L1658.59,184.12 L1659.15,183.85 L1659.72,183.05 L1660.28,181.73 L1660.84,179.94 L1661.4,177.71 L1661.96,175.1 L1662.53,172.17 L1663.09,168.99 L1663.65,165.65 L1664.21,162.23 L1664.78,158.81 L1665.34,155.47 L1665.9,152.29 L1666.46,149.36 L1667.02,146.75 L1667.59,144.52 L1668.15,142.73 L1668.71,141.41 L1669.27,140.61 L1669.84,140.34 L1670.4,140.61 L1670.96,141.41 L1671.52,142.73 L1672.08,144.52 L1672.65,146.75 L1673.21,149.36 L1673.77,152.29 L1674.33,155.47 L1674.9,158.81 L1675.46,162.23 L1676.02,165.65 L1676.58,168.99 L1677.15,172.17 L1677.71,175.1 L1678.27,177.71 L1678.83,179.94 L1679.39,181.73 L1679.96,183.05 L1680.52,183.85 L1681.08,184.12 L1681.64,183.85 L1682.21,183.05 L1682.77,181.73 L1683.33,179.94 L1683.89,177.71 L1684.45,175.1 L1685.02,172.17 L1685.58,168.99 L1686.14,165.65 L1686.7,162.23 L1687.27,158.81 L1687.83,155.47 L1688.39,152.29 L1688.95,149.36 L1689.51,146.75 L1690.08,144.52 L1690.64,142.73 L1691.2,141.41 L1691.76,140.61 L1692.33,140.34 L1692.89,140.61 L1693.45,141.41 L1694.01,142.73 L1694.57,144.52 L1695.14,146.75 L1695.7,149.36 L1696.26,152.29 L1696.82,155.47 L1697.39,158.81 L1697.95,162.23 L1698.51,165.65 L1699.07,168.99 L1699.63,172.17 L1700.2,175.1 L1700.76,177.71 L1701.32,179.94 L1701.88,181.73 L1702.45,183.05 L1703.01,183.85 L1703.57,184.12 L1704.13,183.85 L1704.69,183.05 L1705.26,181.73 L1705.82,179.94 L1706.38,177.71 L1706.94,175.1 L1707.51,172.17 L1708.07,168.99 L1708.63,165.65 L1709.19,162.23 L1709.76,158.81 L1710.32,155.47 L1710.88,152.29 L1711.44,149.36 L1712.0,146.75 L1712.57,144.52 L1713.13,142.73 L1713.69,141.41 L1714.25,140.61 L1714.82,140.34 L1715.38,140.61 L1715.94,141.41 L1716.5,142.73 L1717.06,144.52 L1717.63,146.75 L1718.19,149.36 L1718.75,152.29 L1719.31,155.47 L1719.88,158.81 L1720.44,162.23 L1721.0,165.65 L1721.56,168.99 L1722.12,172.17 L1722.69,175.1 L1723.25,177.71 L1723.81,179.94 L1724.37,181.73 L1724.94,183.05 L1725.5,183.85 L1726.06,184.12 L1726.62,183.85 L1727.18,183.05 L1727.75,181.73 L1728.31,179.94 L1728.87,177.71 L1729.43,175.1 L1730.0,172.17 L1730.56,168.99 L1731.12,165.65 L1731.68,162.23 L1732.24,158.81 L1732.81,155.47 L1733.37,152.29 L1733.93,149.36 L1734.49,146.75 L1735.06,144.52 L1735.62,142.73 L1736.18,141.41 L1736.74,140.61 L1737.3,140.34 L1737.87,140.61 L1738.43,141.41 L1738.99,142.73 L1739.55,144.52 L1740.12,146.75 L1740.68,149.36 L1741.24,152.29 L1741.8,155.47 L1742.36,158.81 L1742.93,162.23 L1743.49,165.65 L1744.05,168.99 L1744.61,172.17 L1745.18,175.1 L1745.74,177.71 L1746.3,179.94 L1746.86,181.73 L1747.43,183.05 L1747.99,183.85 L1748.55,184.12 L1749.11,183.85 L1749.67,183.05 L1750.24,181.73 L1750.8,179.94 L1751.36,177.71 L1751.92,175.1 L1752.49,172.17 L1753.05,168.99 L1753.61,165.65 L1754.17,162.23 L1754.73,158.81 L1755.3,155.47 L1755.86,152.29 L1756.42,149.36 L1756.98,146.75 L1757.55,144.52 L1758.11,142.73 L1758.67,141.41 L1759.23,140.61 L1759.79,140.34 L1760.36,140.61 L1760.92,141.42 L1761.48,142.74 L1762.04,144.54 L1762.61,146.78 L1763.17,149.41 L1763.73,152.35 L1764.29,155.54 L1764.85,158.9 L1765.42,162.34 L1765.98,165.78 L1766.54,169.14 L1767.1,172.33 L1767.67,175.27 L1768.23,177.9 L1768.79,180.14 L1769.35,181.94 L1769.91,183.26 L1770.48,184.07 L1771.04,184.34 L1771.6,183.95 L1772.16,182.79 L1772.73,180.88 L1773.29,178.28 L1773.85,175.04 L1774.41,171.25 L1774.97,167.0 L1775.54,162.4 L1776.1,157.55 L1776.66,152.59 L1777.22,147.62 L1777.79,142.77 L1778.35,138.17 L1778.91,133.92 L1779.47,130.13 L1780.04,126.9 L1780.6,124.29 L1781.16,122.39 L1781.72,121.22 L1782.28,120.83 L1782.85,121.13 L1783.41,122.03 L1783.97,123.49 L1784.53,125.49 L1785.1,127.98 L1785.66,130.88 L1786.22,134.15 L1786.78,137.68 L1787.34,141.4 L1787.91,145.22 L1788.47,149.03 L1789.03,152.75 L1789.59,156.29 L1790.16,159.55 L1790.72,162.46 L1791.28,164.94 L1791.84,166.94 L1792.4,168.41 L1792.97,169.3 L1793.53,169.6 L1794.09,169.3 L1794.65,168.41 L1795.22,166.94 L1795.78,164.94 L1796.34,162.46 L1796.9,159.55 L1797.46,156.29 L1798.03,152.75 L1798.59,149.03 L1799.15,145.22 L1799.71,141.4 L1800.28,137.68 L1800.84,134.15 L1801.4,130.88 L1801.96,127.98 L1802.52,125.49 L1803.09,123.49 L1803.65,122.03 L1804.21,121.13 L1804.77,120.83 L1805.34,121.13 L1805.9,122.03 L1806.46,123.49 L1807.02,125.49 L1807.58,127.98 L1808.15,130.88 L1808.71,134.15 L1809.27,137.68 L1809.83,141.4 L1810.4,145.22 L1810.96,149.03 L1811.52,152.75 L1812.08,156.29 L1812.64,159.55 L1813.21,162.46 L1813.77,164.94 L1814.33,166.94 L1814.89,168.41 L1815.46,169.3 L1816.02,169.6 L1816.58,169.3 L1817.14,168.41 L1817.71,166.94 L1818.27,164.94 L1818.83,162.46 L1819.39,159.55 L1819.95,156.29 L1820.52,152.75 L1821.08,149.03 L1821.64,145.22 L1822.2,141.4 L1822.77,137.68 L1823.33,134.15 L1823.89,130.88 L1824.45,127.98 L1825.01,125.49 L1825.58,123.49 L1826.14,122.03 L1826.7,121.13 L1827.26,120.83 L1827.83,121.13 L1828.39,122.03 L1828.95,123.49 L1829.51,125.49 L1830.07,127.98 L1830.64,130.88 L1831.2,134.15 L1831.76,137.68 L1832.32,141.4 L1832.89,145.22 L1833.45,149.03 L1834.01,152.75 L1834.57,156.29 L1835.13,159.55 L1835.7,162.46 L1836.26,164.94 L1836.82,166.94 L1837.38,168.41 L1837.95,169.3 L1838.51,169.6 L1839.07,169.3 L1839.63,168.41 L1840.19,166.94 L1840.76,164.94 L1841.32,162.46 L1841.88,159.55 L1842.44,156.29 L1843.01,152.75 L1843.57,149.03 L1844.13,145.22 L1844.69,141.4 L1845.25,137.68 L1845.82,134.15 L1846.38,130.88 L1846.94,127.98 L1847.5,125.49 L1848.07,123.49 L1848.63,122.03 L1849.19,121.13 L1849.75,120.83 L1850.32,121.13 L1850.88,122.03 L1851.44,123.49 L1852.0,125.49 L1852.56,127.98 L1853.13,130.88 L1853.69,134.15 L1854.25,137.68 L1854.81,141.4 L1855.38,145.22 L1855.94,149.03 L1856.5,152.75 L1857.06,156.29 L1857.62,159.55 L1858.19,162.46 L1858.75,164.94 L1859.31,166.94 L1859.87,168.41 L1860.44,169.3 L1861.0,169.6 L1861.56,169.3 L1862.12,168.41 L1862.68,166.94 L1863.25,164.94 L1863.81,162.46 L1864.37,159.55 L1864.93,156.29 L1865.5,152.75 L1866.06,149.03 L1866.62,145.22 L1867.18,141.4 L1867.74,137.68 L1868.31,134.15 L1868.87,130.88 L1869.43,127.98 L1869.99,125.49 L1870.56,123.49 L1871.12,122.03 L1871.68,121.13 L1872.24,120.83 L1872.8,121.13 L1873.37,122.03 L1873.93,123.49 L1874.49,125.49 L1875.05,127.98 L1875.62,130.88 L1876.18,134.15 L1876.74,137.68 L1877.3,141.4 L1877.86,145.22 L1878.43,149.03 L1878.99,152.75 L1879.55,156.29 L1880.11,159.55 L1880.68,162.46 L1881.24,164.94 L1881.8,166.94 L1882.36,168.41 L1882.92,169.3 L1883.49,169.6 L1884.05,169.3 L1884.61,168.41 L1885.17,166.94 L1885.74,164.94 L1886.3,162.46 L1886.86,159.55 L1887.42,156.29 L1887.99,152.75 L1888.55,149.03 L1889.11,145.22 L1889.67,141.4 L1890.23,137.68 L1890.8,134.15 L1891.36,130.88 L1891.92,127.98 L1892.48,125.49 L1893.05,123.49 L1893.61,122.03 L1894.17,121.13 L1894.73,120.83 L1895.29,121.02 L1895.86,121.59 L1896.42,122.52 L1896.98,123.8 L1897.54,125.38 L1898.11,127.23 L1898.67,129.31 L1899.23,131.56 L1899.79,133.92 L1900.35,136.35 L1900.92,138.78 L1901.48,141.14 L1902.04,143.39 L1902.6,145.47 L1903.17,147.32 L1903.73,148.9 L1904.29,150.18 L1904.85,151.11 L1905.41,151.68 L1905.98,151.87 L1906.54,151.55 L1907.1,150.62 L1907.66,149.1 L1908.23,147.02 L1908.79,144.43 L1909.35,141.4 L1909.91,138.01 L1910.47,134.33 L1911.04,130.46 L1911.6,126.49 L1912.16,122.52 L1912.72,118.64 L1913.29,114.96 L1913.85,111.57 L1914.41,108.54 L1914.97,105.95 L1915.53,103.87 L1916.1,102.35 L1916.66,101.42 L1917.22,101.11 L1917.78,101.44 L1918.35,102.43 L1918.91,104.05 L1919.47,106.27 L1920.03,109.03 L1920.6,112.25 L1921.16,115.87 L1921.72,119.79 L1922.28,123.92 L1922.84,128.15 L1923.41,132.38 L1923.97,136.51 L1924.53,140.43 L1925.09,144.04 L1925.66,147.27 L1926.22,150.03 L1926.78,152.24 L1927.34,153.87 L1927.9,154.86 L1928.47,155.19 L1929.03,154.86 L1929.59,153.87 L1930.15,152.24 L1930.72,150.03 L1931.28,147.27 L1931.84,144.04 L1932.4,140.43 L1932.96,136.51 L1933.53,132.38 L1934.09,128.15 L1934.65,123.92 L1935.21,119.79 L1935.78,115.87 L1936.34,112.25 L1936.9,109.03 L1937.46,106.27 L1938.02,104.05 L1938.59,102.43 L1939.15,101.44 L1939.71,101.11 L1940.27,101.44 L1940.84,102.43 L1941.4,104.05 L1941.96,106.27 L1942.52,109.03 L1943.08,112.25 L1943.65,115.87 L1944.21,119.79 L1944.77,123.92 L1945.33,128.15 L1945.9,132.38 L1946.46,136.51 L1947.02,140.43 L1947.58,144.04 L1948.14,147.27 L1948.71,150.03 L1949.27,152.24 L1949.83,153.87 L1950.39,154.86 L1950.96,155.19 L1951.52,154.86 L1952.08,153.87 L1952.64,152.24 L1953.2,150.03 L1953.77,147.27 L1954.33,144.04 L1954.89,140.43 L1955.45,136.51 L1956.02,132.38 L1956.58,128.15 L1957.14,123.92 L1957.7,119.79 L1958.27,115.87 L1958.83,112.25 L1959.39,109.03 L1959.95,106.27 L1960.51,104.05 L1961.08,102.43 L1961.64,101.44 L1962.2,101.11 L1962.76,101.44 L1963.33,102.43 L1963.89,104.05 L1964.45,106.27 L1965.01,109.03 L1965.57,112.25 L1966.14,115.87 L1966.7,119.79 L1967.26,123.92 L1967.82,128.15 L1968.39,132.38 L1968.95,136.51 L1969.51,140.43 L1970.07,144.04 L1970.63,147.27 L1971.2,150.03 L1971.76,152.24 L1972.32,153.87 L1972.88,154.86 L1973.45,155.19 L1974.01,154.86 L1974.57,153.87 L1975.13,152.24 L1975.69,150.03 L1976.26,147.27 L1976.82,144.04 L1977.38,140.43 L1977.94,136.51 L1978.51,132.38 L1979.07,128.15 L1979.63,123.92 L1980.19,119.79 L1980.75,115.87 L1981.32,112.25 L1981.88,109.03 L1982.44,106.27 L1983.0,104.05 L1983.57,102.43 L1984.13,101.44 L1984.69,101.11 L1985.26,101.42 L1985.83,102.37 L1986.39,103.93 L1986.96,106.05 L1987.53,108.68 L1988.1,111.76 L1988.66,115.21 L1989.23,118.95 L1989.8,122.88 L1990.37,126.89 L1990.93,130.9 L1991.5,134.8" fill="none" stroke="#ff0000" stroke-width="3.2" stroke-linejoin="round"/>
<path d="M1095.5,223.24 L1096.08,223.04 L1096.66,222.45 L1097.24,221.47 L1097.82,220.13 L1098.4,218.45 L1098.98,216.47 L1099.56,214.23 L1100.14,211.78 L1100.72,209.15 L1101.3,206.42 L1101.88,203.63 L1102.46,200.83 L1103.04,198.1 L1103.63,195.48 L1104.21,193.02 L1104.79,190.78 L1105.37,188.8 L1105.95,187.12 L1106.53,185.78 L1107.11,184.8 L1107.69,184.21 L1108.27,184.01 L1108.85,184.25 L1109.43,184.97 L1110.01,186.15 L1110.59,187.75 L1111.17,189.75 L1111.75,192.09 L1112.33,194.72 L1112.91,197.56 L1113.49,200.56 L1114.07,203.63 L1114.65,206.69 L1115.23,209.69 L1115.81,212.53 L1116.39,215.16 L1116.97,217.5 L1117.55,219.5 L1118.13,221.11 L1118.71,222.28 L1119.29,223.0 L1119.87,223.24 L1120.45,223.0 L1121.03,222.28 L1121.61,221.11 L1122.19,219.5 L1122.77,217.5 L1123.35,215.16 L1123.93,212.53 L1124.51,209.69 L1125.09,206.69 L1125.67,203.63 L1126.25,200.56 L1126.83,197.56 L1127.41,194.72 L1127.99,192.09 L1128.57,189.75 L1129.15,187.75 L1129.73,186.15 L1130.31,184.97 L1130.89,184.25 L1131.47,184.01 L1132.05,184.25 L1132.63,184.97 L1133.21,186.15 L1133.8,187.75 L1134.38,189.75 L1134.96,192.09 L1135.54,194.72 L1136.12,197.56 L1136.7,200.56 L1137.28,203.63 L1137.86,206.69 L1138.44,209.69 L1139.02,212.53 L1139.6,215.16 L1140.18,217.5 L1140.76,219.5 L1141.34,221.11 L1141.92,222.28 L1142.5,223.0 L1143.08,223.24 L1143.66,223.0 L1144.24,222.28 L1144.82,221.11 L1145.4,219.5 L1145.98,217.5 L1146.56,215.16 L1147.14,212.53 L1147.72,209.69 L1148.3,206.69 L1148.88,203.63 L1149.46,200.56 L1150.04,197.56 L1150.62,194.72 L1151.2,192.09 L1151.78,189.75 L1152.36,187.75 L1152.94,186.15 L1153.52,184.97 L1154.1,184.25 L1154.68,184.01 L1155.26,184.25 L1155.84,184.97 L1156.42,186.15 L1157.0,187.75 L1157.58,189.75 L1158.16,192.09 L1158.74,194.72 L1159.32,197.56 L1159.9,200.56 L1160.48,203.63 L1161.06,206.69 L1161.64,209.69 L1162.22,212.53 L1162.8,215.16 L1163.38,217.5 L1163.96,219.5 L1164.54,221.11 L1165.12,222.28 L1165.7,223.0 L1166.28,223.24 L1166.86,223.0 L1167.44,222.28 L1168.02,221.11 L1168.6,219.5 L1169.18,217.5 L1169.76,215.16 L1170.35,212.53 L1170.93,209.69 L1171.51,206.69 L1172.09,203.63 L1172.67,200.56 L1173.25,197.56 L1173.83,194.72 L1174.41,192.09 L1174.99,189.75 L1175.57,187.75 L1176.15,186.15 L1176.73,184.97 L1177.31,184.25 L1177.89,184.01 L1178.47,184.25 L1179.05,184.97 L1179.63,186.15 L1180.21,187.75 L1180.79,189.75 L1181.37,192.09 L1181.95,194.72 L1182.53,197.56 L1183.11,200.56 L1183.69,203.63 L1184.27,206.69 L1184.85,209.69 L1185.43,212.53 L1186.01,215.16 L1186.59,217.5 L1187.17,219.5 L1187.75,221.11 L1188.33,222.28 L1188.91,223.0 L1189.49,223.24 L1190.07,223.0 L1190.65,222.28 L1191.23,221.11 L1191.81,219.5 L1192.39,217.5 L1192.97,215.16 L1193.55,212.53 L1194.13,209.69 L1194.71,206.69 L1195.29,203.63 L1195.87,200.56 L1196.45,197.56 L1197.03,194.72 L1197.61,192.09 L1198.19,189.75 L1198.77,187.75 L1199.35,186.15 L1199.93,184.97 L1200.51,184.25 L1201.09,184.01 L1201.67,184.25 L1202.25,184.97 L1202.83,186.15 L1203.41,187.75 L1203.99,189.75 L1204.57,192.09 L1205.15,194.72 L1205.73,197.56 L1206.32,200.56 L1206.9,203.63 L1207.48,206.69 L1208.06,209.69 L1208.64,212.53 L1209.22,215.16 L1209.8,217.5 L1210.38,219.5 L1210.96,221.11 L1211.54,222.28 L1212.12,223.0 L1212.7,223.24 L1213.28,223.0 L1213.86,222.28 L1214.44,221.11 L1215.02,219.5 L1215.6,217.5 L1216.18,215.16 L1216.76,212.53 L1217.34,209.69 L1217.92,206.69 L1218.5,203.63 L1219.08,200.56 L1219.66,197.56 L1220.24,194.72 L1220.82,192.09 L1221.4,189.75 L1221.98,187.75 L1222.56,186.15 L1223.14,184.97 L1223.72,184.25 L1224.3,184.01 L1224.86,184.34 L1225.43,185.34 L1225.99,186.95 L1226.55,189.14 L1227.11,191.83 L1227.68,194.91 L1228.24,198.3 L1228.8,201.87 L1229.36,205.5 L1229.93,209.06 L1230.49,212.45 L1231.05,215.54 L1231.61,218.22 L1232.18,220.41 L1232.74,222.03 L1233.3,223.02 L1233.86,223.35 L1234.43,222.9 L1234.99,221.56 L1235.55,219.37 L1236.12,216.41 L1236.68,212.78 L1237.24,208.61 L1237.8,204.03 L1238.37,199.21 L1238.93,194.3 L1239.49,189.47 L1240.05,184.9 L1240.62,180.72 L1241.18,177.1 L1241.74,174.14 L1242.3,171.95 L1242.87,170.61 L1243.43,170.15 L1243.99,170.42 L1244.55,171.2 L1245.12,172.48 L1245.68,174.23 L1246.24,176.4 L1246.8,178.95 L1247.37,181.8 L1247.93,184.9 L1248.49,188.15 L1249.05,191.49 L1249.61,194.83 L1250.18,198.08 L1250.74,201.18 L1251.3,204.03 L1251.86,206.58 L1252.43,208.75 L1252.99,210.5 L1253.55,211.78 L1254.11,212.56 L1254.67,212.83 L1255.24,212.56 L1255.8,211.78 L1256.36,210.5 L1256.92,208.75 L1257.49,206.58 L1258.05,204.03 L1258.61,201.18 L1259.17,198.08 L1259.73,194.83 L1260.3,191.49 L1260.86,188.15 L1261.42,184.9 L1261.98,181.8 L1262.55,178.95 L1263.11,176.4 L1263.67,174.23 L1264.23,172.48 L1264.79,171.2 L1265.36,170.42 L1265.92,170.15 L1266.48,170.42 L1267.04,171.2 L1267.61,172.48 L1268.17,174.23 L1268.73,176.4 L1269.29,178.95 L1269.85,181.8 L1270.42,184.9 L1270.98,188.15 L1271.54,191.49 L1272.1,194.83 L1272.67,198.08 L1273.23,201.18 L1273.79,204.03 L1274.35,206.58 L1274.92,208.75 L1275.48,210.5 L1276.04,211.78 L1276.6,212.56 L1277.16,212.83 L1277.73,212.56 L1278.29,211.78 L1278.85,210.5 L1279.41,208.75 L1279.98,206.58 L1280.54,204.03 L1281.1,201.18 L1281.66,198.08 L1282.22,194.83 L1282.79,191.49 L1283.35,188.15 L1283.91,184.9 L1284.47,181.8 L1285.04,178.95 L1285.6,176.4 L1286.16,174.23 L1286.72,172.48 L1287.28,171.2 L1287.85,170.42 L1288.41,170.15 L1288.97,170.42 L1289.53,171.2 L1290.1,172.48 L1290.66,174.23 L1291.22,176.4 L1291.78,178.95 L1292.34,181.8 L1292.91,184.9 L1293.47,188.15 L1294.03,191.49 L1294.59,194.83 L1295.16,198.08 L1295.72,201.18 L1296.28,204.03 L1296.84,206.58 L1297.4,208.75 L1297.97,210.5 L1298.53,211.78 L1299.09,212.56 L1299.65,212.83 L1300.22,212.56 L1300.78,211.78 L1301.34,210.5 L1301.9,208.75 L1302.46,206.58 L1303.03,204.03 L1303.59,201.18 L1304.15,198.08 L1304.71,194.83 L1305.28,191.49 L1305.84,188.15 L1306.4,184.9 L1306.96,181.8 L1307.52,178.95 L1308.09,176.4 L1308.65,174.23 L1309.21,172.48 L1309.77,171.2 L1310.34,170.42 L1310.9,170.15 L1311.46,170.42 L1312.02,171.2 L1312.59,172.48 L1313.15,174.23 L1313.71,176.4 L1314.27,178.95 L1314.83,181.8 L1315.4,184.9 L1315.96,188.15 L1316.52,191.49 L1317.08,194.83 L1317.65,198.08 L1318.21,201.18 L1318.77,204.03 L1319.33,206.58 L1319.89,208.75 L1320.46,210.5 L1321.02,211.78 L1321.58,212.56 L1322.14,212.83 L1322.71,212.56 L1323.27,211.78 L1323.83,210.5 L1324.39,208.75 L1324.95,206.58 L1325.52,204.03 L1326.08,201.18 L1326.64,198.08 L1327.2,194.83 L1327.77,191.49 L1328.33,188.15 L1328.89,184.9 L1329.45,181.8 L1330.01,178.95 L1330.58,176.4 L1331.14,174.23 L1331.7,172.48 L1332.26,171.2 L1332.83,170.42 L1333.39,170.15 L1333.95,170.42 L1334.51,171.2 L1335.07,172.48 L1335.64,174.23 L1336.2,176.4 L1336.76,178.95 L1337.32,181.8 L1337.89,184.9 L1338.45,188.15 L1339.01,191.49 L1339.57,194.83 L1340.13,198.08 L1340.7,201.18 L1341.26,204.03 L1341.82,206.58 L1342.38,208.75 L1342.95,210.5 L1343.51,211.78 L1344.07,212.56 L1344.63,212.83 L1345.2,212.56 L1345.76,211.78 L1346.32,210.5 L1346.88,208.75 L1347.44,206.58 L1348.01,204.03 L1348.57,201.18 L1349.13,198.08 L1349.69,194.83 L1350.26,191.49 L1350.82,188.15 L1351.38,184.9 L1351.94,181.8 L1352.5,178.95 L1353.07,176.4 L1353.63,174.23 L1354.19,172.48 L1354.75,171.2 L1355.32,170.42 L1355.88,170.15 L1356.45,170.45 L1357.01,171.31 L1357.58,172.73 L1358.15,174.65 L1358.72,177.04 L1359.29,179.82 L1359.86,182.92 L1360.42,186.25 L1360.99,189.73 L1361.56,193.25 L1362.13,196.73 L1362.7,200.06 L1363.26,203.16 L1363.83,205.94 L1364.4,208.33 L1364.97,210.25 L1365.54,211.67 L1366.11,212.53 L1366.67,212.83 L1367.24,212.5 L1367.81,211.52 L1368.38,209.91 L1368.95,207.73 L1369.52,205.03 L1370.08,201.88 L1370.65,198.37 L1371.22,194.59 L1371.79,190.66 L1372.36,186.67 L1372.93,182.73 L1373.49,178.96 L1374.06,175.45 L1374.63,172.3 L1375.2,169.6 L1375.77,167.41 L1376.33,165.81 L1376.9,164.83 L1377.47,164.5 L1378.03,164.77 L1378.6,165.55 L1379.16,166.85 L1379.72,168.61 L1380.28,170.8 L1380.84,173.36 L1381.41,176.24 L1381.97,179.36 L1382.53,182.64 L1383.09,186.0 L1383.66,189.37 L1384.22,192.65 L1384.78,195.76 L1385.34,198.64 L1385.9,201.21 L1386.47,203.4 L1387.03,205.16 L1387.59,206.45 L1388.15,207.24 L1388.72,207.5 L1389.28,207.24 L1389.84,206.45 L1390.4,205.16 L1390.96,203.4 L1391.53,201.21 L1392.09,198.64 L1392.65,195.76 L1393.21,192.65 L1393.78,189.37 L1394.34,186.0 L1394.9,182.64 L1395.46,179.36 L1396.03,176.24 L1396.59,173.36 L1397.15,170.8 L1397.71,168.61 L1398.27,166.85 L1398.84,165.55 L1399.4,164.77 L1399.96,164.5 L1400.52,164.77 L1401.09,165.55 L1401.65,166.85 L1402.21,168.61 L1402.77,170.8 L1403.33,173.36 L1403.9,176.24 L1404.46,179.36 L1405.02,182.64 L1405.58,186.0 L1406.15,189.37 L1406.71,192.65 L1407.27,195.76 L1407.83,198.64 L1408.39,201.21 L1408.96,203.4 L1409.52,205.16 L1410.08,206.45 L1410.64,207.24 L1411.21,207.5 L1411.77,207.24 L1412.33,206.45 L1412.89,205.16 L1413.45,203.4 L1414.02,201.21 L1414.58,198.64 L1415.14,195.76 L1415.7,192.65 L1416.27,189.37 L1416.83,186.0 L1417.39,182.64 L1417.95,179.36 L1418.51,176.24 L1419.08,173.36 L1419.64,170.8 L1420.2,168.61 L1420.76,166.85 L1421.33,165.55 L1421.89,164.77 L1422.45,164.5 L1423.01,164.77 L1423.57,165.55 L1424.14,166.85 L1424.7,168.61 L1425.26,170.8 L1425.82,173.36 L1426.39,176.24 L1426.95,179.36 L1427.51,182.64 L1428.07,186.0 L1428.64,189.37 L1429.2,192.65 L1429.76,195.76 L1430.32,198.64 L1430.88,201.21 L1431.45,203.4 L1432.01,205.16 L1432.57,206.45 L1433.13,207.24 L1433.7,207.5 L1434.26,207.24 L1434.82,206.45 L1435.38,205.16 L1435.94,203.4 L1436.51,201.21 L1437.07,198.64 L1437.63,195.76 L1438.19,192.65 L1438.76,189.37 L1439.32,186.0 L1439.88,182.64 L1440.44,179.36 L1441.0,176.24 L1441.57,173.36 L1442.13,170.8 L1442.69,168.61 L1443.25,166.85 L1443.82,165.55 L1444.38,164.77 L1444.94,164.5 L1445.5,164.77 L1446.06,165.55 L1446.63,166.85 L1447.19,168.61 L1447.75,170.8 L1448.31,173.36 L1448.88,176.24 L1449.44,179.36 L1450.0,182.64 L1450.56,186.0 L1451.12,189.37 L1451.69,192.65 L1452.25,195.76 L1452.81,198.64 L1453.37,201.21 L1453.94,203.4 L1454.5,205.16 L1455.06,206.45 L1455.62,207.24 L1456.18,207.5 L1456.75,207.24 L1457.31,206.45 L1457.87,205.16 L1458.43,203.4 L1459.0,201.21 L1459.56,198.64 L1460.12,195.76 L1460.68,192.65 L1461.24,189.37 L1461.81,186.0 L1462.37,182.64 L1462.93,179.36 L1463.49,176.24 L1464.06,173.36 L1464.62,170.8 L1465.18,168.61 L1465.74,166.85 L1466.31,165.55 L1466.87,164.77 L1467.43,164.5 L1467.99,164.77 L1468.55,165.55 L1469.12,166.85 L1469.68,168.61 L1470.24,170.8 L1470.8,173.36 L1471.37,176.24 L1471.93,179.36 L1472.49,182.64 L1473.05,186.0 L1473.61,189.37 L1474.18,192.65 L1474.74,195.76 L1475.3,198.64 L1475.86,201.21 L1476.43,203.4 L1476.99,205.16 L1477.55,206.45 L1478.11,207.24 L1478.67,207.5 L1479.24,207.24 L1479.8,206.45 L1480.36,205.16 L1480.92,203.4 L1481.49,201.21 L1482.05,198.64 L1482.61,195.76 L1483.17,192.65 L1483.73,189.37 L1484.3,186.0 L1484.86,182.64 L1485.42,179.36 L1485.98,176.24 L1486.55,173.36 L1487.11,170.8 L1487.67,168.61 L1488.23,166.85 L1488.79,165.55 L1489.36,164.77 L1489.92,164.5 L1490.48,164.77 L1491.04,165.56 L1491.61,166.86 L1492.17,168.64 L1492.73,170.85 L1493.29,173.43 L1493.85,176.33 L1494.42,179.47 L1494.98,182.78 L1495.54,186.17 L1496.1,189.56 L1496.67,192.87 L1497.23,196.01 L1497.79,198.91 L1498.35,201.49 L1498.92,203.7 L1499.48,205.48 L1500.04,206.78 L1500.6,207.57 L1501.16,207.84 L1501.73,207.51 L1502.29,206.55 L1502.85,204.97 L1503.41,202.82 L1503.98,200.14 L1504.54,197.01 L1505.1,193.5 L1505.66,189.69 L1506.22,185.68 L1506.79,181.57 L1507.35,177.46 L1507.91,173.45 L1508.47,169.64 L1509.04,166.13 L1509.6,163.0 L1510.16,160.32 L1510.72,158.17 L1511.28,156.59 L1511.85,155.63 L1512.41,155.3 L1512.97,155.57 L1513.53,156.38 L1514.1,157.69 L1514.66,159.49 L1515.22,161.73 L1515.78,164.35 L1516.34,167.28 L1516.91,170.47 L1517.47,173.81 L1518.03,177.25 L1518.59,180.68 L1519.16,184.03 L1519.72,187.21 L1520.28,190.15 L1520.84,192.76 L1521.4,195.0 L1521.97,196.8 L1522.53,198.12 L1523.09,198.92 L1523.65,199.19 L1524.22,198.92 L1524.78,198.12 L1525.34,196.8 L1525.9,195.0 L1526.46,192.76 L1527.03,190.15 L1527.59,187.21 L1528.15,184.03 L1528.71,180.68 L1529.28,177.25 L1529.84,173.81 L1530.4,170.47 L1530.96,167.28 L1531.52,164.35 L1532.09,161.73 L1532.65,159.49 L1533.21,157.69 L1533.77,156.38 L1534.34,155.57 L1534.9,155.3 L1535.46,155.57 L1536.02,156.38 L1536.59,157.69 L1537.15,159.49 L1537.71,161.73 L1538.27,164.35 L1538.83,167.28 L1539.4,170.47 L1539.96,173.81 L1540.52,177.25 L1541.08,180.68 L1541.65,184.03 L1542.21,187.21 L1542.77,190.15 L1543.33,192.76 L1543.89,195.0 L1544.46,196.8 L1545.02,198.12 L1545.58,198.92 L1546.14,199.19 L1546.71,198.92 L1547.27,198.12 L1547.83,196.8 L1548.39,195.0 L1548.95,192.76 L1549.52,190.15 L1550.08,187.21 L1550.64,184.03 L1551.2,180.68 L1551.77,177.25 L1552.33,173.81 L1552.89,170.47 L1553.45,167.28 L1554.01,164.35 L1554.58,161.73 L1555.14,159.49 L1555.7,157.69 L1556.26,156.38 L1556.83,155.57 L1557.39,155.3 L1557.95,155.57 L1558.51,156.38 L1559.07,157.69 L1559.64,159.49 L1560.2,161.73 L1560.76,164.35 L1561.32,167.28 L1561.89,170.47 L1562.45,173.81 L1563.01,177.25 L1563.57,180.68 L1564.13,184.03 L1564.7,187.21 L1565.26,190.15 L1565.82,192.76 L1566.38,195.0 L1566.95,196.8 L1567.51,198.12 L1568.07,198.92 L1568.63,199.19 L1569.2,198.92 L1569.76,198.12 L1570.32,196.8 L1570.88,195.0 L1571.44,192.76 L1572.01,190.15 L1572.57,187.21 L1573.13,184.03 L1573.69,180.68 L1574.26,177.25 L1574.82,173.81 L1575.38,170.47 L1575.94,167.28 L1576.5,164.35 L1577.07,161.73 L1577.63,159.49 L1578.19,157.69 L1578.75,156.38 L1579.32,155.57 L1579.88,155.3 L1580.44,155.57 L1581.0,156.38 L1581.56,157.69 L1582.13,159.49 L1582.69,161.73 L1583.25,164.35 L1583.81,167.28 L1584.38,170.47 L1584.94,173.81 L1585.5,177.25 L1586.06,180.68 L1586.62,184.03 L1587.19,187.21 L1587.75,190.15 L1588.31,192.76 L1588.87,195.0 L1589.44,196.8 L1590.0,198.12 L1590.56,198.92 L1591.12,199.19 L1591.68,198.92 L1592.25,198.12 L1592.81,196.8 L1593.37,195.0 L1593.93,192.76 L1594.5,190.15 L1595.06,187.21 L1595.62,184.03 L1596.18,180.68 L1596.74,177.25 L1597.31,173.81 L1597.87,170.47 L1598.43,167.28 L1598.99,164.35 L1599.56,161.73 L1600.12,159.49 L1600.68,157.69 L1601.24,156.38 L1601.8,155.57 L1602.37,155.3 L1602.93,155.57 L1603.49,156.38 L1604.05,157.69 L1604.62,159.49 L1605.18,161.73 L1605.74,164.35 L1606.3,167.28 L1606.87,170.47 L1607.43,173.81 L1607.99,177.25 L1608.55,180.68 L1609.11,184.03 L1609.68,187.21 L1610.24,190.15 L1610.8,192.76 L1611.36,195.0 L1611.93,196.8 L1612.49,198.12 L1613.05,198.92 L1613.61,199.19 L1614.17,198.92 L1614.74,198.12 L1615.3,196.8 L1615.86,195.0 L1616.42,192.76 L1616.99,190.15 L1617.55,187.21 L1618.11,184.03 L1618.67,180.68 L1619.23,177.25 L1619.8,173.81 L1620.36,170.47 L1620.92,167.28 L1621.48,164.35 L1622.05,161.73 L1622.61,159.49 L1623.17,157.69 L1623.73,156.38 L1624.29,155.57 L1624.86,155.3 L1625.42,155.6 L1625.98,156.47 L1626.54,157.89 L1627.11,159.84 L1627.67,162.27 L1628.23,165.1 L1628.79,168.28 L1629.35,171.73 L1629.92,175.36 L1630.48,179.08 L1631.04,182.8 L1631.6,186.42 L1632.17,189.87 L1632.73,193.05 L1633.29,195.89 L1633.85,198.31 L1634.41,200.26 L1634.98,201.69 L1635.54,202.56 L1636.1,202.85 L1636.66,202.47 L1637.23,201.32 L1637.79,199.44 L1638.35,196.88 L1638.91,193.7 L1639.48,189.97 L1640.04,185.78 L1640.6,181.25 L1641.16,176.48 L1641.72,171.6 L1642.29,166.71 L1642.85,161.94 L1643.41,157.41 L1643.97,153.22 L1644.54,149.49 L1645.1,146.31 L1645.66,143.75 L1646.22,141.87 L1646.78,140.72 L1647.35,140.34 L1647.91,140.61 L1648.47,141.41 L1649.03,142.73 L1649.6,144.52 L1650.16,146.75 L1650.72,149.36 L1651.28,152.29 L1651.84,155.47 L1652.41,158.81 L1652.97,162.23 L1653.53,165.65 L1654.09,168.99 L1654.66,172.17 L1655.22,175.1 L1655.78,177.71 L1656.34,179.94 L1656.9,181.73 L1657.47,183.05 L1658.03,183.85 L1658.59,184.12 L1659.15,183.85 L1659.72,183.05 L1660.28,181.73 L1660.84,179.94 L1661.4,177.71 L1661.96,175.1 L1662.53,172.17 L1663.09,168.99 L1663.65,165.65 L1664.21,162.23 L1664.78,158.81 L1665.34,155.47 L1665.9,152.29 L1666.46,149.36 L1667.02,146.75 L1667.59,144.52 L1668.15,142.73 L1668.71,141.41 L1669.27,140.61 L1669.84,140.34 L1670.4,140.61 L1670.96,141.41 L1671.52,142.73 L1672.08,144.52 L1672.65,146.75 L1673.21,149.36 L1673.77,152.29 L1674.33,155.47 L1674.9,158.81 L1675.46,162.23 L1676.02,165.65 L1676.58,168.99 L1677.15,172.17 L1677.71,175.1 L1678.27,177.71 L1678.83,179.94 L1679.39,181.73 L1679.96,183.05 L1680.52,183.85 L1681.08,184.12 L1681.64,183.85 L1682.21,183.05 L1682.77,181.73 L1683.33,179.94 L1683.89,177.71 L1684.45,175.1 L1685.02,172.17 L1685.58,168.99 L1686.14,165.65 L1686.7,162.23 L1687.27,158.81 L1687.83,155.47 L1688.39,152.29 L1688.95,149.36 L1689.51,146.75 L1690.08,144.52 L1690.64,142.73 L1691.2,141.41 L1691.76,140.61 L1692.33,140.34 L1692.89,140.61 L1693.45,141.41 L1694.01,142.73 L1694.57,144.52 L1695.14,146.75 L1695.7,149.36 L1696.26,152.29 L1696.82,155.47 L1697.39,158.81 L1697.95,162.23 L1698.51,165.65 L1699.07,168.99 L1699.63,172.17 L1700.2,175.1 L1700.76,177.71 L1701.32,179.94 L1701.88,181.73 L1702.45,183.05 L1703.01,183.85 L1703.57,184.12 L1704.13,183.85 L1704.69,183.05 L1705.26,181.73 L1705.82,179.94 L1706.38,177.71 L1706.94,175.1 L1707.51,172.17 L1708.07,168.99 L1708.63,165.65 L1709.19,162.23 L1709.76,158.81 L1710.32,155.47 L1710.88,152.29 L1711.44,149.36 L1712.0,146.75 L1712.57,144.52 L1713.13,142.73 L1713.69,141.41 L1714.25,140.61 L1714.82,140.34 L1715.38,140.61 L1715.94,141.41 L1716.5,142.73 L1717.06,144.52 L1717.63,146.75 L1718.19,149.36 L1718.75,152.29 L1719.31,155.47 L1719.88,158.81 L1720.44,162.23 L1721.0,165.65 L1721.56,168.99 L1722.12,172.17 L1722.69,175.1 L1723.25,177.71 L1723.81,179.94 L1724.37,181.73 L1724.94,183.05 L1725.5,183.85 L1726.06,184.12 L1726.62,183.85 L1727.18,183.05 L1727.75,181.73 L1728.31,179.94 L1728.87,177.71 L1729.43,175.1 L1730.0,172.17 L1730.56,168.99 L1731.12,165.65 L1731.68,162.23 L1732.24,158.81 L1732.81,155.47 L1733.37,152.29 L1733.93,149.36 L1734.49,146.75 L1735.06,144.52 L1735.62,142.73 L1736.18,141.41 L1736.74,140.61 L1737.3,140.34 L1737.87,140.61 L1738.43,141.41 L1738.99,142.73 L1739.55,144.52 L1740.12,146.75 L1740.68,149.36 L1741.24,152.29 L1741.8,155.47 L1742.36,158.81 L1742.93,162.23 L1743.49,165.65 L1744.05,168.99 L1744.61,172.17 L1745.18,175.1 L1745.74,177.71 L1746.3,179.94 L1746.86,181.73 L1747.43,183.05 L1747.99,183.85 L1748.55,184.12 L1749.11,183.85 L1749.67,183.05 L1750.24,181.73 L1750.8,179.94 L1751.36,177.71 L1751.92,175.1 L1752.49,172.17 L1753.05,168.99 L1753.61,165.65 L1754.17,162.23 L1754.73,158.81 L1755.3,155.47 L1755.86,152.29 L1756.42,149.36 L1756.98,146.75 L1757.55,144.52 L1758.11,142.73 L1758.67,141.41 L1759.23,140.61 L1759.79,140.34 L1760.37,140.64 L1760.95,141.53 L1761.53,142.99 L1762.1,144.98 L1762.68,147.44 L1763.26,150.31 L1763.83,153.5 L1764.41,156.94 L1764.99,160.52 L1765.57,164.16 L1766.14,167.74 L1766.72,171.18 L1767.3,174.37 L1767.87,177.24 L1768.45,179.7 L1769.03,181.69 L1769.61,183.15 L1770.18,184.04 L1770.76,184.34 L1771.34,183.94 L1771.91,182.74 L1772.49,180.78 L1773.07,178.11 L1773.64,174.81 L1774.22,170.96 L1774.8,166.67 L1775.38,162.05 L1775.95,157.24 L1776.53,152.36 L1777.11,147.55 L1777.68,142.94 L1778.26,138.65 L1778.84,134.8 L1779.42,131.49 L1779.99,128.83 L1780.57,126.87 L1781.15,125.67 L1781.72,125.27 L1782.29,125.52 L1782.85,126.28 L1783.41,127.53 L1783.97,129.24 L1784.54,131.35 L1785.1,133.83 L1785.66,136.61 L1786.22,139.63 L1786.78,142.8 L1787.35,146.05 L1787.91,149.3 L1788.47,152.47 L1789.03,155.48 L1789.6,158.26 L1790.16,160.74 L1790.72,162.86 L1791.28,164.56 L1791.84,165.81 L1792.41,166.57 L1792.97,166.83 L1793.53,166.57 L1794.09,165.81 L1794.66,164.56 L1795.22,162.86 L1795.78,160.74 L1796.34,158.26 L1796.9,155.48 L1797.47,152.47 L1798.03,149.3 L1798.59,146.05 L1799.15,142.8 L1799.72,139.63 L1800.28,136.61 L1800.84,133.83 L1801.4,131.35 L1801.96,129.24 L1802.53,127.53 L1803.09,126.28 L1803.65,125.52 L1804.21,125.27 L1804.78,125.52 L1805.34,126.28 L1805.9,127.53 L1806.46,129.24 L1807.02,131.35 L1807.59,133.83 L1808.15,136.61 L1808.71,139.63 L1809.27,142.8 L1809.84,146.05 L1810.4,149.3 L1810.96,152.47 L1811.52,155.48 L1812.08,158.26 L1812.65,160.74 L1813.21,162.86 L1813.77,164.56 L1814.33,165.81 L1814.9,166.57 L1815.46,166.83 L1816.02,166.57 L1816.58,165.81 L1817.15,164.56 L1817.71,162.86 L1818.27,160.74 L1818.83,158.26 L1819.39,155.48 L1819.96,152.47 L1820.52,149.3 L1821.08,146.05 L1821.64,142.8 L1822.21,139.63 L1822.77,136.61 L1823.33,133.83 L1823.89,131.35 L1824.45,129.24 L1825.02,127.53 L1825.58,126.28 L1826.14,125.52 L1826.7,125.27 L1827.27,125.52 L1827.83,126.28 L1828.39,127.53 L1828.95,129.24 L1829.51,131.35 L1830.08,133.83 L1830.64,136.61 L1831.2,139.63 L1831.76,142.8 L1832.33,146.05 L1832.89,149.3 L1833.45,152.47 L1834.01,155.48 L1834.57,158.26 L1835.14,160.74 L1835.7,162.86 L1836.26,164.56 L1836.82,165.81 L1837.39,166.57 L1837.95,166.83 L1838.51,166.57 L1839.07,165.81 L1839.63,164.56 L1840.2,162.86 L1840.76,160.74 L1841.32,158.26 L1841.88,155.48 L1842.45,152.47 L1843.01,149.3 L1843.57,146.05 L1844.13,142.8 L1844.69,139.63 L1845.26,136.61 L1845.82,133.83 L1846.38,131.35 L1846.94,129.24 L1847.51,127.53 L1848.07,126.28 L1848.63,125.52 L1849.19,125.27 L1849.76,125.52 L1850.32,126.28 L1850.88,127.53 L1851.44,129.24 L1852.0,131.35 L1852.57,133.83 L1853.13,136.61 L1853.69,139.63 L1854.25,142.8 L1854.82,146.05 L1855.38,149.3 L1855.94,152.47 L1856.5,155.48 L1857.06,158.26 L1857.63,160.74 L1858.19,162.86 L1858.75,164.56 L1859.31,165.81 L1859.88,166.57 L1860.44,166.83 L1861.0,166.57 L1861.56,165.81 L1862.12,164.56 L1862.69,162.86 L1863.25,160.74 L1863.81,158.26 L1864.37,155.48 L1864.94,152.47 L1865.5,149.3 L1866.06,146.05 L1866.62,142.8 L1867.18,139.63 L1867.75,136.61 L1868.31,133.83 L1868.87,131.35 L1869.43,129.24 L1870.0,127.53 L1870.56,126.28 L1871.12,125.52 L1871.68,125.27 L1872.24,125.52 L1872.81,126.28 L1873.37,127.53 L1873.93,129.24 L1874.49,131.35 L1875.06,133.83 L1875.62,136.61 L1876.18,139.63 L1876.74,142.8 L1877.3,146.05 L1877.87,149.3 L1878.43,152.47 L1878.99,155.48 L1879.55,158.26 L1880.12,160.74 L1880.68,162.86 L1881.24,164.56 L1881.8,165.81 L1882.36,166.57 L1882.93,166.83 L1883.49,166.57 L1884.05,165.81 L1884.61,164.56 L1885.18,162.86 L1885.74,160.74 L1886.3,158.26 L1886.86,155.48 L1887.43,152.47 L1887.99,149.3 L1888.55,146.05 L1889.11,142.8 L1889.67,139.63 L1890.24,136.61 L1890.8,133.83 L1891.36,131.35 L1891.92,129.24 L1892.49,127.53 L1893.05,126.28 L1893.61,125.52 L1894.17,125.27 L1894.76,125.61 L1895.36,126.62 L1895.95,128.27 L1896.54,130.5 L1897.13,133.24 L1897.73,136.39 L1898.32,139.84 L1898.91,143.48 L1899.5,147.18 L1900.09,150.82 L1900.69,154.27 L1901.28,157.42 L1901.87,160.15 L1902.46,162.38 L1903.06,164.03 L1903.65,165.05 L1904.24,165.39 L1904.83,164.89 L1905.43,163.4 L1906.02,160.97 L1906.61,157.69 L1907.2,153.67 L1907.79,149.05 L1908.39,143.97 L1908.98,138.63 L1909.57,133.19 L1910.16,127.84 L1910.76,122.77 L1911.35,118.14 L1911.94,114.12 L1912.53,110.84 L1913.13,108.42 L1913.72,106.93 L1914.31,106.43 L1914.87,106.69 L1915.43,107.48 L1916.0,108.78 L1916.56,110.55 L1917.12,112.76 L1917.68,115.33 L1918.25,118.23 L1918.81,121.36 L1919.37,124.66 L1919.93,128.04 L1920.49,131.42 L1921.06,134.72 L1921.62,137.85 L1922.18,140.74 L1922.74,143.32 L1923.31,145.52 L1923.87,147.29 L1924.43,148.59 L1924.99,149.38 L1925.55,149.65 L1926.12,149.38 L1926.68,148.59 L1927.24,147.29 L1927.8,145.52 L1928.37,143.32 L1928.93,140.74 L1929.49,137.85 L1930.05,134.72 L1930.61,131.42 L1931.18,128.04 L1931.74,124.66 L1932.3,121.36 L1932.86,118.23 L1933.43,115.33 L1933.99,112.76 L1934.55,110.55 L1935.11,108.78 L1935.67,107.48 L1936.24,106.69 L1936.8,106.43 L1937.36,106.69 L1937.92,107.48 L1938.49,108.78 L1939.05,110.55 L1939.61,112.76 L1940.17,115.33 L1940.73,118.23 L1941.3,121.36 L1941.86,124.66 L1942.42,128.04 L1942.98,131.42 L1943.55,134.72 L1944.11,137.85 L1944.67,140.74 L1945.23,143.32 L1945.8,145.52 L1946.36,147.29 L1946.92,148.59 L1947.48,149.38 L1948.04,149.65 L1948.61,149.38 L1949.17,148.59 L1949.73,147.29 L1950.29,145.52 L1950.86,143.32 L1951.42,140.74 L1951.98,137.85 L1952.54,134.72 L1953.1,131.42 L1953.67,128.04 L1954.23,124.66 L1954.79,121.36 L1955.35,118.23 L1955.92,115.33 L1956.48,112.76 L1957.04,110.55 L1957.6,108.78 L1958.16,107.48 L1958.73,106.69 L1959.29,106.43 L1959.85,106.69 L1960.41,107.48 L1960.98,108.78 L1961.54,110.55 L1962.1,112.76 L1962.66,115.33 L1963.22,118.23 L1963.79,121.36 L1964.35,124.66 L1964.91,128.04 L1965.47,131.42 L1966.04,134.72 L1966.6,137.85 L1967.16,140.74 L1967.72,143.32 L1968.28,145.52 L1968.85,147.29 L1969.41,148.59 L1969.97,149.38 L1970.53,149.65 L1971.1,149.38 L1971.66,148.59 L1972.22,147.29 L1972.78,145.52 L1973.34,143.32 L1973.91,140.74 L1974.47,137.85 L1975.03,134.72 L1975.59,131.42 L1976.16,128.04 L1976.72,124.66 L1977.28,121.36 L1977.84,118.23 L1978.4,115.33 L1978.97,112.76 L1979.53,110.55 L1980.09,108.78 L1980.65,107.48 L1981.22,106.69 L1981.78,106.43 L1982.35,106.64 L1982.92,107.26 L1983.49,108.29 L1984.07,109.69 L1984.64,111.42 L1985.21,113.46 L1985.78,115.73 L1986.35,118.19 L1986.93,120.77 L1987.5,123.4 L1988.07,126.02 L1988.64,128.57 L1989.21,130.97 L1989.78,133.17 L1990.36,135.11 L1990.93,136.74 L1991.5,138.01" fill="none" stroke="rgb(12,32,134)" stroke-width="3.3" stroke-dasharray="9 8" stroke-dashoffset="3.35" stroke-linejoin="round"/>
</g>
<line x1="1095.50" y1="342.5" x2="1095.50" y2="332.7" stroke="#1c1c1c" stroke-width="2.0"/>
<line x1="1095.50" y1="10.0" x2="1095.50" y2="19.8" stroke="#1c1c1c" stroke-width="2.0"/>
<line x1="1207.50" y1="342.5" x2="1207.50" y2="332.7" stroke="#1c1c1c" stroke-width="2.0"/>
<line x1="1207.50" y1="10.0" x2="1207.50" y2="19.8" stroke="#1c1c1c" stroke-width="2.0"/>
<line x1="1319.50" y1="342.5" x2="1319.50" y2="332.7" stroke="#1c1c1c" stroke-width="2.0"/>
<line x1="1319.50" y1="10.0" x2="1319.50" y2="19.8" stroke="#1c1c1c" stroke-width="2.0"/>
<line x1="1431.50" y1="342.5" x2="1431.50" y2="332.7" stroke="#1c1c1c" stroke-width="2.0"/>
<line x1="1431.50" y1="10.0" x2="1431.50" y2="19.8" stroke="#1c1c1c" stroke-width="2.0"/>
<line x1="1543.50" y1="342.5" x2="1543.50" y2="332.7" stroke="#1c1c1c" stroke-width="2.0"/>
<line x1="1543.50" y1="10.0" x2="1543.50" y2="19.8" stroke="#1c1c1c" stroke-width="2.0"/>
<line x1="1655.50" y1="342.5" x2="1655.50" y2="332.7" stroke="#1c1c1c" stroke-width="2.0"/>
<line x1="1655.50" y1="10.0" x2="1655.50" y2="19.8" stroke="#1c1c1c" stroke-width="2.0"/>
<line x1="1767.50" y1="342.5" x2="1767.50" y2="332.7" stroke="#1c1c1c" stroke-width="2.0"/>
<line x1="1767.50" y1="10.0" x2="1767.50" y2="19.8" stroke="#1c1c1c" stroke-width="2.0"/>
<line x1="1879.50" y1="342.5" x2="1879.50" y2="332.7" stroke="#1c1c1c" stroke-width="2.0"/>
<line x1="1879.50" y1="10.0" x2="1879.50" y2="19.8" stroke="#1c1c1c" stroke-width="2.0"/>
<line x1="1991.50" y1="342.5" x2="1991.50" y2="332.7" stroke="#1c1c1c" stroke-width="2.0"/>
<line x1="1991.50" y1="10.0" x2="1991.50" y2="19.8" stroke="#1c1c1c" stroke-width="2.0"/>
<line x1="1095.5" y1="342.50" x2="1105.3" y2="342.50" stroke="#1c1c1c" stroke-width="2.0"/>
<line x1="1991.5" y1="342.50" x2="1981.7" y2="342.50" stroke="#1c1c1c" stroke-width="2.0"/>
<line x1="1095.5" y1="287.08" x2="1105.3" y2="287.08" stroke="#1c1c1c" stroke-width="2.0"/>
<line x1="1991.5" y1="287.08" x2="1981.7" y2="287.08" stroke="#1c1c1c" stroke-width="2.0"/>
<line x1="1095.5" y1="231.67" x2="1105.3" y2="231.67" stroke="#1c1c1c" stroke-width="2.0"/>
<line x1="1991.5" y1="231.67" x2="1981.7" y2="231.67" stroke="#1c1c1c" stroke-width="2.0"/>
<line x1="1095.5" y1="176.25" x2="1105.3" y2="176.25" stroke="#1c1c1c" stroke-width="2.0"/>
<line x1="1991.5" y1="176.25" x2="1981.7" y2="176.25" stroke="#1c1c1c" stroke-width="2.0"/>
<line x1="1095.5" y1="120.83" x2="1105.3" y2="120.83" stroke="#1c1c1c" stroke-width="2.0"/>
<line x1="1991.5" y1="120.83" x2="1981.7" y2="120.83" stroke="#1c1c1c" stroke-width="2.0"/>
<line x1="1095.5" y1="65.42" x2="1105.3" y2="65.42" stroke="#1c1c1c" stroke-width="2.0"/>
<line x1="1991.5" y1="65.42" x2="1981.7" y2="65.42" stroke="#1c1c1c" stroke-width="2.0"/>
<line x1="1095.5" y1="10.00" x2="1105.3" y2="10.00" stroke="#1c1c1c" stroke-width="2.0"/>
<line x1="1991.5" y1="10.00" x2="1981.7" y2="10.00" stroke="#1c1c1c" stroke-width="2.0"/>
<rect x="1095.5" y="10.0" width="896.00" height="332.50" fill="none" stroke="#1c1c1c" stroke-width="2.0"/>
<text transform="translate(1095.50,371.1) scale(1,1.07)" class="tk" text-anchor="middle">0</text>
<text transform="translate(1207.50,371.1) scale(1,1.07)" class="tk" text-anchor="middle">50</text>
<text transform="translate(1319.50,371.1) scale(1,1.07)" class="tk" text-anchor="middle">100</text>
<text transform="translate(1431.50,371.1) scale(1,1.07)" class="tk" text-anchor="middle">150</text>
<text transform="translate(1543.50,371.1) scale(1,1.07)" class="tk" text-anchor="middle">200</text>
<text transform="translate(1655.50,371.1) scale(1,1.07)" class="tk" text-anchor="middle">250</text>
<text transform="translate(1767.50,371.1) scale(1,1.07)" class="tk" text-anchor="middle">300</text>
<text transform="translate(1879.50,371.1) scale(1,1.07)" class="tk" text-anchor="middle">350</text>
<text transform="translate(1991.50,371.1) scale(1,1.07)" class="tk" text-anchor="middle">400</text>
<text transform="translate(1087.50,350.2) scale(1,1.07)" class="tk" text-anchor="end">-1</text>
<text transform="translate(1087.50,294.8) scale(1,1.07)" class="tk" text-anchor="end">-0.5</text>
<text transform="translate(1087.50,239.4) scale(1,1.07)" class="tk" text-anchor="end">0</text>
<text transform="translate(1087.50,183.9) scale(1,1.07)" class="tk" text-anchor="end">0.5</text>
<text transform="translate(1087.50,128.5) scale(1,1.07)" class="tk" text-anchor="end">1</text>
<text transform="translate(1087.50,73.1) scale(1,1.07)" class="tk" text-anchor="end">1.5</text>
<text transform="translate(1087.50,17.7) scale(1,1.07)" class="tk" text-anchor="end">2</text>
<rect x="1108.2" y="22.2" width="178.5" height="51.5" fill="#fff" stroke="#1c1c1c" stroke-width="2"/>
<line x1="1112.3" y1="36.3" x2="1157.9" y2="36.3" stroke="#ff0000" stroke-width="3"/>
<text x="1166.5" y="42.9" class="lg" style="font-size:19.2px" xml:space="preserve">ANN  Model</text>
<line x1="1112.3" y1="60.3" x2="1157.9" y2="60.3" stroke="rgb(12,32,134)" stroke-width="3" stroke-dasharray="9 8.7"/>
<text x="1166.5" y="66.9" class="lg" style="font-size:19.2px" xml:space="preserve">FAST  Model</text>
<text class="lb" x="500.6" y="401.2" text-anchor="middle">Time (s)</text>
<text class="lb" x="1543.5" y="401.2" text-anchor="middle">Time (s)</text>
<text class="lb" transform="translate(16.4,175.1) rotate(-90)" text-anchor="middle">Platform Pitch (deg)</text>
<text class="lb" transform="translate(1040.9,176.2) rotate(-90)" text-anchor="middle">Fore-aft (m)</text>
<text class="cap" x="161.6" y="466"><tspan class="capb">(a)</tspan> Platform Pitch from FAST and ANN.</text>
<text class="cap" x="1147.2" y="466"><tspan class="capb">(b)</tspan> Fore-aft displacement from FAST and ANN.</text>
</g>
</svg>
</body></html>
